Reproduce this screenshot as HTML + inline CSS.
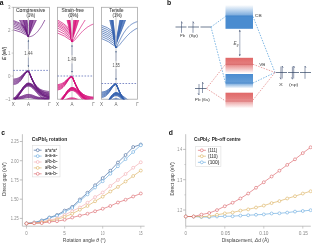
<!DOCTYPE html>
<html><head><meta charset="utf-8"><style>
html,body{margin:0;padding:0;background:#fff;width:312px;height:243px;overflow:hidden}
svg{display:block;font-family:"Liberation Sans", sans-serif;will-change:transform}
</style></head><body>
<svg width="312" height="243" viewBox="0 0 312 243" xmlns="http://www.w3.org/2000/svg">
<rect x="13.3" y="7.3" width="36.2" height="91.9" fill="none" stroke="#a9a9a9" stroke-width="0.8"/>
<line x1="28.4" y1="7.3" x2="28.4" y2="99.2" stroke="#a9a9a9" stroke-width="0.6"/>
<clipPath id="c0"><rect x="13.3" y="20.0" width="36.2" height="79.2"/></clipPath>
<g clip-path="url(#c0)" fill="none" stroke="#6a1c80" stroke-width="0.7">
<path d="M18.9,19.0 L26.9,19.0 L28.4,36.5 Z" fill="#7b2a8e" fill-opacity="0.65" stroke="none"/>
<path d="M18.9,19.0 L28.4,36.5 L28.4,36.8"/>
<path d="M22.9,19.0 L28.4,36.5 L28.4,36.8"/>
<path d="M26.9,19.0 L28.4,36.5 L28.4,36.8"/>
<path d="M29.9,19.0 L36.9,19.0 L28.4,36.5 Z" fill="#7b2a8e" fill-opacity="0.65" stroke="none"/>
<path d="M29.9,19.0 L28.4,36.5 L28.4,36.8"/>
<path d="M33.4,19.0 L28.4,36.5 L28.4,36.8"/>
<path d="M36.9,19.0 L28.4,36.5 L28.4,36.8"/>
<path d="M23.6,19.0 Q27.8,35.5 28.4,34.3 Q29.0,35.5 32.7,19.0" stroke-width="0.5"/>
<path d="M24.6,19.0 Q27.8,32.6 28.4,31.4 Q29.0,32.6 31.9,19.0" stroke-width="0.5"/>
<path d="M25.6,19.0 Q27.8,29.7 28.4,28.5 Q29.0,29.7 31.0,19.0" stroke-width="0.5"/>
<path d="M26.5,19.0 Q27.8,26.8 28.4,25.6 Q29.0,26.8 30.1,19.0" stroke-width="0.5"/>
<path d="M13.3,20.5 Q19.0,21.9 24.7,26.6 Q27.9,36.5 28.4,36.8"/>
<path d="M13.3,21.5 Q19.3,23.2 25.3,28.1 Q27.9,36.5 28.4,36.8"/>
<path d="M13.3,22.8 Q19.5,24.6 25.8,29.6 Q27.9,36.5 28.4,36.8"/>
<path d="M13.3,24.2 Q19.8,26.1 26.3,31.2 Q27.9,36.5 28.4,36.8"/>
<path d="M13.3,25.8 Q20.0,27.7 26.8,32.7 Q27.9,36.5 28.4,36.8"/>
<path d="M13.3,27.6 Q20.3,29.3 27.3,34.3 Q27.9,36.5 28.4,36.8"/>
<path d="M13.3,29.8 Q20.5,31.2 27.8,35.8 Q27.9,36.5 28.4,36.8"/>
<path d="M28.8,36.8 L29.3,36.7 L29.8,36.7 L30.3,36.6 L30.8,36.4 L31.3,36.3 L31.8,36.1 L32.3,35.9 L32.8,35.6 L33.3,35.3 L33.8,35.0 L34.3,34.6 L34.8,34.3 L35.3,33.8 L35.8,33.4 L36.3,32.9 L36.8,32.4 L37.3,31.9 L37.8,31.3 L38.3,30.7 L38.8,30.1 L39.3,29.4 L39.8,28.7 L40.3,28.0 L40.8,27.3 L41.3,26.5 L41.8,25.7 L42.3,24.8 L42.8,23.9 L43.3,23.0 L43.8,22.1 L44.3,21.1 L44.8,20.1 L45.3,19.1 L45.8,18.0 L46.3,17.0 L46.8,17.0 L47.3,17.0 L47.8,17.0 L48.3,17.0 L48.8,17.0 L49.3,17.0"/>
<line x1="28.4" y1="20.0" x2="28.4" y2="34.3" stroke="#ffffff" stroke-opacity="0.6" stroke-width="1.0"/><line x1="28.4" y1="20.0" x2="28.4" y2="34.3" stroke="#b8b8b8" stroke-width="0.4"/>
<g stroke-width="0.95">
<path d="M13.3,79.1 L13.8,79.1 L14.3,79.0 L14.8,79.0 L15.3,78.9 L15.8,78.8 L16.3,78.7 L16.8,78.6 L17.3,78.4 L17.8,78.2 L18.3,78.0 L18.8,77.8 L19.3,77.5 L19.8,77.2 L20.3,76.8 L20.8,76.4 L21.3,76.0 L21.8,75.6 L22.3,75.1 L22.8,74.6 L23.3,74.1 L23.8,73.6 L24.3,73.1 L24.8,72.7 L25.3,72.2 L25.8,71.8 L26.3,71.5 L26.8,71.2 L27.3,71.0 L27.8,70.9 L28.3,70.8 L28.8,71.3 L29.3,72.4 L29.8,73.6 L30.3,74.8 L30.8,75.9 L31.3,77.1 L31.8,78.2 L32.3,79.3 L32.8,80.3 L33.3,81.3 L33.8,82.2 L34.3,83.0 L34.8,83.8 L35.3,84.6 L35.8,85.2 L36.3,85.9 L36.8,86.5 L37.3,87.0 L37.8,87.5 L38.3,87.9 L38.8,88.3 L39.3,88.7 L39.8,89.0 L40.3,89.3 L40.8,89.6 L41.3,89.8 L41.8,90.0 L42.3,90.2 L42.8,90.4 L43.3,90.5 L43.8,90.7 L44.3,90.8 L44.8,90.9 L45.3,91.0 L45.8,91.1 L46.3,91.2 L46.8,91.2 L47.3,91.3 L47.8,91.4 L48.3,91.4 L48.8,91.5 L49.3,91.5"/>
<path d="M13.3,80.2 L13.8,80.1 L14.3,80.1 L14.8,80.0 L15.3,79.9 L15.8,79.8 L16.3,79.7 L16.8,79.6 L17.3,79.4 L17.8,79.2 L18.3,79.0 L18.8,78.7 L19.3,78.4 L19.8,78.0 L20.3,77.7 L20.8,77.2 L21.3,76.8 L21.8,76.3 L22.3,75.7 L22.8,75.2 L23.3,74.6 L23.8,74.1 L24.3,73.5 L24.8,73.0 L25.3,72.5 L25.8,72.1 L26.3,71.7 L26.8,71.4 L27.3,71.2 L27.8,71.0 L28.3,71.0 L28.8,71.4 L29.3,72.5 L29.8,73.7 L30.3,74.9 L30.8,76.1 L31.3,77.3 L31.8,78.4 L32.3,79.5 L32.8,80.5 L33.3,81.5 L33.8,82.5 L34.3,83.3 L34.8,84.2 L35.3,85.0 L35.8,85.7 L36.3,86.4 L36.8,87.0 L37.3,87.6 L37.8,88.1 L38.3,88.6 L38.8,89.0 L39.3,89.4 L39.8,89.8 L40.3,90.1 L40.8,90.4 L41.3,90.7 L41.8,90.9 L42.3,91.2 L42.8,91.4 L43.3,91.6 L43.8,91.7 L44.3,91.9 L44.8,92.0 L45.3,92.1 L45.8,92.2 L46.3,92.3 L46.8,92.4 L47.3,92.5 L47.8,92.6 L48.3,92.6 L48.8,92.7 L49.3,92.7"/>
<path d="M13.3,81.2 L13.8,81.2 L14.3,81.1 L14.8,81.1 L15.3,81.0 L15.8,80.9 L16.3,80.8 L16.8,80.6 L17.3,80.4 L17.8,80.2 L18.3,79.9 L18.8,79.6 L19.3,79.3 L19.8,78.9 L20.3,78.5 L20.8,78.0 L21.3,77.5 L21.8,76.9 L22.3,76.4 L22.8,75.8 L23.3,75.2 L23.8,74.6 L24.3,74.0 L24.8,73.4 L25.3,72.9 L25.8,72.4 L26.3,72.0 L26.8,71.6 L27.3,71.4 L27.8,71.2 L28.3,71.1 L28.8,71.6 L29.3,72.7 L29.8,73.9 L30.3,75.1 L30.8,76.3 L31.3,77.5 L31.8,78.6 L32.3,79.7 L32.8,80.7 L33.3,81.8 L33.8,82.7 L34.3,83.6 L34.8,84.5 L35.3,85.3 L35.8,86.1 L36.3,86.8 L36.8,87.5 L37.3,88.1 L37.8,88.6 L38.3,89.2 L38.8,89.7 L39.3,90.1 L39.8,90.5 L40.3,90.9 L40.8,91.2 L41.3,91.5 L41.8,91.8 L42.3,92.1 L42.8,92.3 L43.3,92.5 L43.8,92.7 L44.3,92.9 L44.8,93.1 L45.3,93.2 L45.8,93.3 L46.3,93.5 L46.8,93.6 L47.3,93.7 L47.8,93.7 L48.3,93.8 L48.8,93.9 L49.3,94.0"/>
<path d="M13.3,82.3 L13.8,82.3 L14.3,82.2 L14.8,82.1 L15.3,82.0 L15.8,81.9 L16.3,81.8 L16.8,81.6 L17.3,81.4 L17.8,81.2 L18.3,80.9 L18.8,80.6 L19.3,80.2 L19.8,79.8 L20.3,79.3 L20.8,78.8 L21.3,78.2 L21.8,77.6 L22.3,77.0 L22.8,76.3 L23.3,75.7 L23.8,75.0 L24.3,74.4 L24.8,73.7 L25.3,73.2 L25.8,72.6 L26.3,72.2 L26.8,71.8 L27.3,71.5 L27.8,71.4 L28.3,71.3 L28.8,71.8 L29.3,72.9 L29.8,74.1 L30.3,75.3 L30.8,76.5 L31.3,77.6 L31.8,78.8 L32.3,79.9 L32.8,81.0 L33.3,82.0 L33.8,83.0 L34.3,83.9 L34.8,84.8 L35.3,85.7 L35.8,86.5 L36.3,87.2 L36.8,87.9 L37.3,88.6 L37.8,89.2 L38.3,89.7 L38.8,90.3 L39.3,90.8 L39.8,91.2 L40.3,91.6 L40.8,92.0 L41.3,92.3 L41.8,92.7 L42.3,93.0 L42.8,93.2 L43.3,93.5 L43.8,93.7 L44.3,93.9 L44.8,94.1 L45.3,94.2 L45.8,94.4 L46.3,94.5 L46.8,94.7 L47.3,94.8 L47.8,94.9 L48.3,95.0 L48.8,95.1 L49.3,95.1"/>
<path d="M13.3,83.4 L13.8,83.3 L14.3,83.3 L14.8,83.2 L15.3,83.1 L15.8,83.0 L16.3,82.8 L16.8,82.6 L17.3,82.4 L17.8,82.1 L18.3,81.8 L18.8,81.5 L19.3,81.1 L19.8,80.6 L20.3,80.1 L20.8,79.6 L21.3,79.0 L21.8,78.3 L22.3,77.6 L22.8,76.9 L23.3,76.2 L23.8,75.5 L24.3,74.8 L24.8,74.1 L25.3,73.5 L25.8,72.9 L26.3,72.4 L26.8,72.0 L27.3,71.7 L27.8,71.5 L28.3,71.4 L28.8,71.9 L29.3,73.0 L29.8,74.2 L30.3,75.4 L30.8,76.6 L31.3,77.8 L31.8,79.0 L32.3,80.1 L32.8,81.2 L33.3,82.2 L33.8,83.2 L34.3,84.2 L34.8,85.1 L35.3,86.0 L35.8,86.8 L36.3,87.6 L36.8,88.3 L37.3,89.0 L37.8,89.7 L38.3,90.3 L38.8,90.8 L39.3,91.4 L39.8,91.8 L40.3,92.3 L40.8,92.7 L41.3,93.1 L41.8,93.5 L42.3,93.8 L42.8,94.1 L43.3,94.4 L43.8,94.6 L44.3,94.8 L44.8,95.1 L45.3,95.2 L45.8,95.4 L46.3,95.6 L46.8,95.7 L47.3,95.9 L47.8,96.0 L48.3,96.1 L48.8,96.2 L49.3,96.3"/>
<path d="M13.3,84.4 L13.8,84.4 L14.3,84.3 L14.8,84.2 L15.3,84.1 L15.8,84.0 L16.3,83.8 L16.8,83.6 L17.3,83.4 L17.8,83.1 L18.3,82.8 L18.8,82.4 L19.3,82.0 L19.8,81.5 L20.3,80.9 L20.8,80.3 L21.3,79.7 L21.8,79.0 L22.3,78.3 L22.8,77.5 L23.3,76.7 L23.8,76.0 L24.3,75.2 L24.8,74.5 L25.3,73.8 L25.8,73.2 L26.3,72.7 L26.8,72.2 L27.3,71.9 L27.8,71.7 L28.3,71.6 L28.8,72.1 L29.3,73.2 L29.8,74.4 L30.3,75.6 L30.8,76.8 L31.3,78.0 L31.8,79.1 L32.3,80.3 L32.8,81.4 L33.3,82.4 L33.8,83.5 L34.3,84.4 L34.8,85.4 L35.3,86.3 L35.8,87.1 L36.3,88.0 L36.8,88.7 L37.3,89.5 L37.8,90.1 L38.3,90.8 L38.8,91.4 L39.3,91.9 L39.8,92.5 L40.3,92.9 L40.8,93.4 L41.3,93.8 L41.8,94.2 L42.3,94.6 L42.8,94.9 L43.3,95.2 L43.8,95.5 L44.3,95.7 L44.8,96.0 L45.3,96.2 L45.8,96.4 L46.3,96.6 L46.8,96.8 L47.3,96.9 L47.8,97.1 L48.3,97.2 L48.8,97.3 L49.3,97.4"/>
<path d="M13.3,101.2 L13.8,100.7 L14.3,100.2 L14.8,99.7 L15.3,99.1 L15.8,98.5 L16.3,97.8 L16.8,97.1 L17.3,96.4 L17.8,95.7 L18.3,94.9 L18.8,94.1 L19.3,93.3 L19.8,92.5 L20.3,91.7 L20.8,90.9 L21.3,90.1 L21.8,89.3 L22.3,88.5 L22.8,87.7 L23.3,87.0 L23.8,86.4 L24.3,85.7 L24.8,85.2 L25.3,84.6 L25.8,84.2 L26.3,83.8 L26.8,83.5 L27.3,83.3 L27.8,83.2 L28.3,83.1 L28.8,83.1 L29.3,83.2 L29.8,83.3 L30.3,83.4 L30.8,83.6 L31.3,83.8 L31.8,84.1 L32.3,84.3 L32.8,84.7 L33.3,85.0 L33.8,85.3 L34.3,85.7 L34.8,86.1 L35.3,86.5 L35.8,86.9 L36.3,87.3 L36.8,87.7 L37.3,88.1 L37.8,88.5 L38.3,88.9 L38.8,89.3 L39.3,89.7 L39.8,90.0 L40.3,90.3 L40.8,90.7 L41.3,90.9 L41.8,91.2 L42.3,91.5 L42.8,91.7 L43.3,91.9 L43.8,92.1 L44.3,92.3 L44.8,92.5 L45.3,92.6 L45.8,92.7 L46.3,92.9 L46.8,93.0 L47.3,93.1 L47.8,93.1 L48.3,93.2 L48.8,93.3 L49.3,93.3"/>
<path d="M13.3,101.3 L13.8,100.8 L14.3,100.3 L14.8,99.8 L15.3,99.3 L15.8,98.7 L16.3,98.0 L16.8,97.4 L17.3,96.7 L17.8,95.9 L18.3,95.2 L18.8,94.4 L19.3,93.7 L19.8,92.9 L20.3,92.1 L20.8,91.3 L21.3,90.5 L21.8,89.7 L22.3,88.9 L22.8,88.2 L23.3,87.5 L23.8,86.9 L24.3,86.3 L24.8,85.7 L25.3,85.2 L25.8,84.8 L26.3,84.4 L26.8,84.1 L27.3,83.9 L27.8,83.8 L28.3,83.7 L28.8,83.7 L29.3,83.8 L29.8,83.9 L30.3,84.0 L30.8,84.2 L31.3,84.5 L31.8,84.7 L32.3,85.0 L32.8,85.4 L33.3,85.8 L33.8,86.1 L34.3,86.6 L34.8,87.0 L35.3,87.4 L35.8,87.8 L36.3,88.3 L36.8,88.7 L37.3,89.2 L37.8,89.6 L38.3,90.0 L38.8,90.4 L39.3,90.8 L39.8,91.2 L40.3,91.6 L40.8,91.9 L41.3,92.2 L41.8,92.5 L42.3,92.8 L42.8,93.0 L43.3,93.3 L43.8,93.5 L44.3,93.7 L44.8,93.9 L45.3,94.0 L45.8,94.2 L46.3,94.3 L46.8,94.4 L47.3,94.5 L47.8,94.6 L48.3,94.7 L48.8,94.7 L49.3,94.8"/>
<path d="M13.3,101.4 L13.8,100.9 L14.3,100.5 L14.8,100.0 L15.3,99.4 L15.8,98.8 L16.3,98.2 L16.8,97.6 L17.3,96.9 L17.8,96.2 L18.3,95.5 L18.8,94.7 L19.3,94.0 L19.8,93.2 L20.3,92.4 L20.8,91.7 L21.3,90.9 L21.8,90.1 L22.3,89.4 L22.8,88.7 L23.3,88.0 L23.8,87.4 L24.3,86.8 L24.8,86.2 L25.3,85.8 L25.8,85.3 L26.3,85.0 L26.8,84.7 L27.3,84.5 L27.8,84.4 L28.3,84.3 L28.8,84.3 L29.3,84.4 L29.8,84.5 L30.3,84.7 L30.8,84.9 L31.3,85.1 L31.8,85.4 L32.3,85.8 L32.8,86.1 L33.3,86.5 L33.8,86.9 L34.3,87.4 L34.8,87.8 L35.3,88.3 L35.8,88.8 L36.3,89.3 L36.8,89.7 L37.3,90.2 L37.8,90.7 L38.3,91.1 L38.8,91.6 L39.3,92.0 L39.8,92.4 L40.3,92.8 L40.8,93.1 L41.3,93.5 L41.8,93.8 L42.3,94.1 L42.8,94.4 L43.3,94.6 L43.8,94.9 L44.3,95.1 L44.8,95.3 L45.3,95.4 L45.8,95.6 L46.3,95.7 L46.8,95.9 L47.3,96.0 L47.8,96.1 L48.3,96.1 L48.8,96.2 L49.3,96.3"/>
<path d="M13.3,101.5 L13.8,101.1 L14.3,100.6 L14.8,100.1 L15.3,99.6 L15.8,99.0 L16.3,98.4 L16.8,97.8 L17.3,97.1 L17.8,96.5 L18.3,95.8 L18.8,95.0 L19.3,94.3 L19.8,93.6 L20.3,92.8 L20.8,92.0 L21.3,91.3 L21.8,90.6 L22.3,89.9 L22.8,89.2 L23.3,88.5 L23.8,87.9 L24.3,87.3 L24.8,86.8 L25.3,86.3 L25.8,85.9 L26.3,85.6 L26.8,85.3 L27.3,85.1 L27.8,85.0 L28.3,84.9 L28.8,84.9 L29.3,85.0 L29.8,85.1 L30.3,85.3 L30.8,85.5 L31.3,85.8 L31.8,86.1 L32.3,86.5 L32.8,86.9 L33.3,87.3 L33.8,87.7 L34.3,88.2 L34.8,88.7 L35.3,89.2 L35.8,89.7 L36.3,90.2 L36.8,90.7 L37.3,91.2 L37.8,91.7 L38.3,92.2 L38.8,92.7 L39.3,93.2 L39.8,93.6 L40.3,94.0 L40.8,94.4 L41.3,94.8 L41.8,95.1 L42.3,95.4 L42.8,95.7 L43.3,96.0 L43.8,96.2 L44.3,96.5 L44.8,96.7 L45.3,96.9 L45.8,97.0 L46.3,97.2 L46.8,97.3 L47.3,97.4 L47.8,97.5 L48.3,97.6 L48.8,97.7 L49.3,97.7"/>
<path d="M13.3,101.6 L13.8,101.2 L14.3,100.7 L14.8,100.3 L15.3,99.7 L15.8,99.2 L16.3,98.6 L16.8,98.0 L17.3,97.4 L17.8,96.7 L18.3,96.0 L18.8,95.3 L19.3,94.6 L19.8,93.9 L20.3,93.2 L20.8,92.4 L21.3,91.7 L21.8,91.0 L22.3,90.3 L22.8,89.6 L23.3,89.0 L23.8,88.4 L24.3,87.8 L24.8,87.3 L25.3,86.9 L25.8,86.5 L26.3,86.1 L26.8,85.9 L27.3,85.7 L27.8,85.6 L28.3,85.5 L28.8,85.5 L29.3,85.6 L29.8,85.7 L30.3,85.9 L30.8,86.2 L31.3,86.4 L31.8,86.8 L32.3,87.2 L32.8,87.6 L33.3,88.0 L33.8,88.5 L34.3,89.0 L34.8,89.5 L35.3,90.1 L35.8,90.6 L36.3,91.2 L36.8,91.7 L37.3,92.3 L37.8,92.8 L38.3,93.3 L38.8,93.8 L39.3,94.3 L39.8,94.8 L40.3,95.2 L40.8,95.6 L41.3,96.0 L41.8,96.4 L42.3,96.7 L42.8,97.1 L43.3,97.3 L43.8,97.6 L44.3,97.9 L44.8,98.1 L45.3,98.3 L45.8,98.4 L46.3,98.6 L46.8,98.7 L47.3,98.9 L47.8,99.0 L48.3,99.1 L48.8,99.1 L49.3,99.2"/>
<path d="M13.3,101.7 L13.8,101.3 L14.3,100.9 L14.8,100.4 L15.3,99.9 L15.8,99.4 L16.3,98.8 L16.8,98.2 L17.3,97.6 L17.8,97.0 L18.3,96.3 L18.8,95.6 L19.3,94.9 L19.8,94.2 L20.3,93.5 L20.8,92.8 L21.3,92.1 L21.8,91.4 L22.3,90.8 L22.8,90.1 L23.3,89.5 L23.8,88.9 L24.3,88.4 L24.8,87.9 L25.3,87.4 L25.8,87.0 L26.3,86.7 L26.8,86.5 L27.3,86.3 L27.8,86.2 L28.3,86.1 L28.8,86.1 L29.3,86.2 L29.8,86.3 L30.3,86.5 L30.8,86.8 L31.3,87.1 L31.8,87.5 L32.3,87.9 L32.8,88.3 L33.3,88.8 L33.8,89.3 L34.3,89.9 L34.8,90.4 L35.3,91.0 L35.8,91.6 L36.3,92.1 L36.8,92.7 L37.3,93.3 L37.8,93.9 L38.3,94.4 L38.8,95.0 L39.3,95.5 L39.8,96.0 L40.3,96.4 L40.8,96.9 L41.3,97.3 L41.8,97.7 L42.3,98.1 L42.8,98.4 L43.3,98.7 L43.8,99.0 L44.3,99.2 L44.8,99.5 L45.3,99.7 L45.8,99.9 L46.3,100.0 L46.8,100.2 L47.3,100.3 L47.8,100.4 L48.3,100.5 L48.8,100.6 L49.3,100.7"/>
<path d="M13.3,99.5 L13.8,98.9 L14.3,98.3 L14.8,97.7 L15.3,97.0 L15.8,96.4 L16.3,95.8 L16.8,95.2 L17.3,94.6 L17.8,94.0 L18.3,93.4 L18.8,92.8 L19.3,92.2 L19.8,91.6 L20.3,91.0 L20.8,90.4 L21.3,89.8 L21.8,89.2 L22.3,88.6 L22.8,88.0 L23.3,87.4 L23.8,86.9 L24.3,86.3 L24.8,85.8 L25.3,85.3 L25.8,84.8 L26.3,84.4 L26.8,84.0 L27.3,83.7 L27.8,83.5 L28.3,83.4 L28.8,83.4 L29.3,83.5 L29.8,83.7 L30.3,83.9 L30.8,84.1 L31.3,84.4 L31.8,84.8 L32.3,85.2 L32.8,85.7 L33.3,86.2 L33.8,86.7 L34.3,87.2 L34.8,87.8 L35.3,88.3 L35.8,88.9 L36.3,89.4 L36.8,90.0 L37.3,90.5 L37.8,91.0 L38.3,91.5 L38.8,92.0 L39.3,92.4 L39.8,92.9 L40.3,93.2 L40.8,93.6 L41.3,93.9 L41.8,94.2 L42.3,94.5 L42.8,94.8 L43.3,95.0 L43.8,95.2 L44.3,95.4 L44.8,95.5 L45.3,95.7 L45.8,95.8 L46.3,95.9 L46.8,96.0 L47.3,96.0 L47.8,96.1 L48.3,96.2 L48.8,96.2 L49.3,96.2"/>
<path d="M13.3,100.5 L13.8,99.9 L14.3,99.3 L14.8,98.7 L15.3,98.0 L15.8,97.4 L16.3,96.8 L16.8,96.2 L17.3,95.6 L17.8,95.0 L18.3,94.4 L18.8,93.8 L19.3,93.2 L19.8,92.6 L20.3,92.0 L20.8,91.4 L21.3,90.8 L21.8,90.2 L22.3,89.6 L22.8,89.0 L23.3,88.4 L23.8,87.9 L24.3,87.3 L24.8,86.8 L25.3,86.3 L25.8,85.8 L26.3,85.4 L26.8,85.0 L27.3,84.7 L27.8,84.5 L28.3,84.4 L28.8,84.4 L29.3,84.5 L29.8,84.7 L30.3,84.9 L30.8,85.1 L31.3,85.4 L31.8,85.8 L32.3,86.2 L32.8,86.7 L33.3,87.2 L33.8,87.7 L34.3,88.2 L34.8,88.8 L35.3,89.3 L35.8,89.9 L36.3,90.4 L36.8,91.0 L37.3,91.5 L37.8,92.0 L38.3,92.5 L38.8,93.0 L39.3,93.4 L39.8,93.9 L40.3,94.2 L40.8,94.6 L41.3,94.9 L41.8,95.2 L42.3,95.5 L42.8,95.8 L43.3,96.0 L43.8,96.2 L44.3,96.4 L44.8,96.5 L45.3,96.7 L45.8,96.8 L46.3,96.9 L46.8,97.0 L47.3,97.0 L47.8,97.1 L48.3,97.2 L48.8,97.2 L49.3,97.2"/>
<path d="M13.3,97.9 L13.8,97.9 L14.3,97.8 L14.8,97.8 L15.3,97.8 L15.8,97.7 L16.3,97.6 L16.8,97.6 L17.3,97.5 L17.8,97.4 L18.3,97.3 L18.8,97.1 L19.3,97.0 L19.8,96.9 L20.3,96.7 L20.8,96.5 L21.3,96.4 L21.8,96.2 L22.3,96.0 L22.8,95.8 L23.3,95.6 L23.8,95.4 L24.3,95.2 L24.8,95.1 L25.3,94.9 L25.8,94.8 L26.3,94.6 L26.8,94.5 L27.3,94.5 L27.8,94.4 L28.3,94.4 L28.8,94.4 L29.3,94.4 L29.8,94.5 L30.3,94.6 L30.8,94.7 L31.3,94.8 L31.8,95.0 L32.3,95.2 L32.8,95.3 L33.3,95.5 L33.8,95.7 L34.3,95.9 L34.8,96.1 L35.3,96.3 L35.8,96.5 L36.3,96.6 L36.8,96.8 L37.3,97.0 L37.8,97.1 L38.3,97.2 L38.8,97.3 L39.3,97.4 L39.8,97.5 L40.3,97.6 L40.8,97.7 L41.3,97.7 L41.8,97.8 L42.3,97.8 L42.8,97.9 L43.3,97.9 L43.8,97.9 L44.3,97.9 L44.8,97.9 L45.3,98.0 L45.8,98.0 L46.3,98.0 L46.8,98.0 L47.3,98.0 L47.8,98.0 L48.3,98.0 L48.8,98.0 L49.3,98.0"/>
<path d="M13.3,98.4 L13.8,98.4 L14.3,98.4 L14.8,98.3 L15.3,98.3 L15.8,98.2 L16.3,98.2 L16.8,98.1 L17.3,98.0 L17.8,97.9 L18.3,97.8 L18.8,97.7 L19.3,97.6 L19.8,97.5 L20.3,97.3 L20.8,97.2 L21.3,97.0 L21.8,96.8 L22.3,96.7 L22.8,96.5 L23.3,96.3 L23.8,96.1 L24.3,96.0 L24.8,95.8 L25.3,95.7 L25.8,95.5 L26.3,95.4 L26.8,95.3 L27.3,95.3 L27.8,95.2 L28.3,95.2 L28.8,95.2 L29.3,95.2 L29.8,95.3 L30.3,95.4 L30.8,95.5 L31.3,95.6 L31.8,95.7 L32.3,95.9 L32.8,96.1 L33.3,96.2 L33.8,96.4 L34.3,96.6 L34.8,96.8 L35.3,96.9 L35.8,97.1 L36.3,97.3 L36.8,97.4 L37.3,97.5 L37.8,97.7 L38.3,97.8 L38.8,97.9 L39.3,98.0 L39.8,98.1 L40.3,98.1 L40.8,98.2 L41.3,98.3 L41.8,98.3 L42.3,98.3 L42.8,98.4 L43.3,98.4 L43.8,98.4 L44.3,98.4 L44.8,98.5 L45.3,98.5 L45.8,98.5 L46.3,98.5 L46.8,98.5 L47.3,98.5 L47.8,98.5 L48.3,98.5 L48.8,98.5 L49.3,98.5"/>
<path d="M13.3,98.9 L13.8,98.9 L14.3,98.9 L14.8,98.8 L15.3,98.8 L15.8,98.7 L16.3,98.7 L16.8,98.6 L17.3,98.6 L17.8,98.5 L18.3,98.4 L18.8,98.3 L19.3,98.2 L19.8,98.1 L20.3,97.9 L20.8,97.8 L21.3,97.6 L21.8,97.5 L22.3,97.3 L22.8,97.2 L23.3,97.0 L23.8,96.8 L24.3,96.7 L24.8,96.5 L25.3,96.4 L25.8,96.3 L26.3,96.2 L26.8,96.1 L27.3,96.1 L27.8,96.0 L28.3,96.0 L28.8,96.0 L29.3,96.0 L29.8,96.1 L30.3,96.2 L30.8,96.3 L31.3,96.4 L31.8,96.5 L32.3,96.6 L32.8,96.8 L33.3,96.9 L33.8,97.1 L34.3,97.3 L34.8,97.4 L35.3,97.6 L35.8,97.7 L36.3,97.9 L36.8,98.0 L37.3,98.1 L37.8,98.2 L38.3,98.4 L38.8,98.4 L39.3,98.5 L39.8,98.6 L40.3,98.7 L40.8,98.7 L41.3,98.8 L41.8,98.8 L42.3,98.9 L42.8,98.9 L43.3,98.9 L43.8,98.9 L44.3,98.9 L44.8,99.0 L45.3,99.0 L45.8,99.0 L46.3,99.0 L46.8,99.0 L47.3,99.0 L47.8,99.0 L48.3,99.0 L48.8,99.0 L49.3,99.0"/>
<path d="M13.3,99.4 L13.8,99.4 L14.3,99.4 L14.8,99.3 L15.3,99.3 L15.8,99.3 L16.3,99.2 L16.8,99.2 L17.3,99.1 L17.8,99.0 L18.3,99.0 L18.8,98.9 L19.3,98.8 L19.8,98.6 L20.3,98.5 L20.8,98.4 L21.3,98.3 L21.8,98.1 L22.3,98.0 L22.8,97.8 L23.3,97.7 L23.8,97.6 L24.3,97.4 L24.8,97.3 L25.3,97.2 L25.8,97.1 L26.3,97.0 L26.8,96.9 L27.3,96.9 L27.8,96.8 L28.3,96.8 L28.8,96.8 L29.3,96.8 L29.8,96.9 L30.3,96.9 L30.8,97.0 L31.3,97.1 L31.8,97.2 L32.3,97.4 L32.8,97.5 L33.3,97.6 L33.8,97.8 L34.3,97.9 L34.8,98.1 L35.3,98.2 L35.8,98.4 L36.3,98.5 L36.8,98.6 L37.3,98.7 L37.8,98.8 L38.3,98.9 L38.8,99.0 L39.3,99.1 L39.8,99.1 L40.3,99.2 L40.8,99.3 L41.3,99.3 L41.8,99.3 L42.3,99.4 L42.8,99.4 L43.3,99.4 L43.8,99.4 L44.3,99.4 L44.8,99.5 L45.3,99.5 L45.8,99.5 L46.3,99.5 L46.8,99.5 L47.3,99.5 L47.8,99.5 L48.3,99.5 L48.8,99.5 L49.3,99.5"/>
<path d="M13.3,99.9 L13.8,99.9 L14.3,99.9 L14.8,99.9 L15.3,99.8 L15.8,99.8 L16.3,99.8 L16.8,99.7 L17.3,99.6 L17.8,99.6 L18.3,99.5 L18.8,99.4 L19.3,99.3 L19.8,99.2 L20.3,99.1 L20.8,99.0 L21.3,98.9 L21.8,98.8 L22.3,98.7 L22.8,98.5 L23.3,98.4 L23.8,98.3 L24.3,98.2 L24.8,98.0 L25.3,97.9 L25.8,97.8 L26.3,97.8 L26.8,97.7 L27.3,97.6 L27.8,97.6 L28.3,97.6 L28.8,97.6 L29.3,97.6 L29.8,97.7 L30.3,97.7 L30.8,97.8 L31.3,97.9 L31.8,98.0 L32.3,98.1 L32.8,98.2 L33.3,98.4 L33.8,98.5 L34.3,98.6 L34.8,98.7 L35.3,98.9 L35.8,99.0 L36.3,99.1 L36.8,99.2 L37.3,99.3 L37.8,99.4 L38.3,99.5 L38.8,99.6 L39.3,99.6 L39.8,99.7 L40.3,99.7 L40.8,99.8 L41.3,99.8 L41.8,99.9 L42.3,99.9 L42.8,99.9 L43.3,99.9 L43.8,99.9 L44.3,100.0 L44.8,100.0 L45.3,100.0 L45.8,100.0 L46.3,100.0 L46.8,100.0 L47.3,100.0 L47.8,100.0 L48.3,100.0 L48.8,100.0 L49.3,100.0"/>
</g>
</g>
<line x1="13.3" y1="70.4" x2="49.5" y2="70.4" stroke="#4a5cb0" stroke-width="0.7" stroke-dasharray="1.6,1.4"/>
<line x1="28.4" y1="40.3" x2="28.4" y2="49.2" stroke="#7f8db0" stroke-width="0.55"/>
<line x1="28.4" y1="57.5" x2="28.4" y2="66.8" stroke="#7f8db0" stroke-width="0.55"/>
<path d="M27.599999999999998,41.4 L28.4,40.0 L29.2,41.4Z" fill="#2e4a78"/>
<path d="M27.599999999999998,65.6 L28.4,67.0 L29.2,65.6Z" fill="#2e4a78"/>
<text x="24.22" y="55.00" font-size="4.6" fill="#555" font-weight="normal" textLength="8.46" lengthAdjust="spacingAndGlyphs" >1.44</text>
<text x="16.00" y="11.60" font-size="4.9" fill="#3c3c3c" stroke="#3c3c3c" stroke-width="0.06" font-weight="normal" textLength="29.28" lengthAdjust="spacingAndGlyphs" >Compressive</text>
<text x="26.61" y="17.30" font-size="4.9" fill="#3c3c3c" stroke="#3c3c3c" stroke-width="0.06" font-weight="normal" textLength="8.38" lengthAdjust="spacingAndGlyphs" >(1%)</text>
<text x="13.3" y="105.5" font-size="4.5" fill="#666" text-anchor="middle">X</text>
<text x="28.4" y="105.5" font-size="4.5" fill="#666" text-anchor="middle">A</text>
<text x="49.5" y="105.5" font-size="4.5" fill="#666" text-anchor="middle">Γ</text>
<rect x="57.5" y="7.3" width="36.0" height="91.9" fill="none" stroke="#a9a9a9" stroke-width="0.8"/>
<line x1="72.0" y1="7.3" x2="72.0" y2="99.2" stroke="#a9a9a9" stroke-width="0.6"/>
<clipPath id="c1"><rect x="57.5" y="20.0" width="36.0" height="79.2"/></clipPath>
<g clip-path="url(#c1)" fill="none" stroke="#d5127a" stroke-width="0.7">
<path d="M66.8,19.0 L70.0,19.0 L72.0,40.6 Z" fill="#e0207f" fill-opacity="0.8" stroke="none"/>
<path d="M66.8,19.0 L72.0,40.6 L72.0,41.8"/>
<path d="M68.4,19.0 L72.0,40.6 L72.0,41.8"/>
<path d="M70.0,19.0 L72.0,40.6 L72.0,41.8"/>
<path d="M73.8,19.0 L79.1,19.0 L72.0,40.6 Z" fill="#e0207f" fill-opacity="0.8" stroke="none"/>
<path d="M73.8,19.0 L72.0,40.6 L72.0,41.8"/>
<path d="M76.4,19.0 L72.0,40.6 L72.0,41.8"/>
<path d="M79.1,19.0 L72.0,40.6 L72.0,41.8"/>
<path d="M68.8,19.0 Q71.4,39.6 72.0,38.4 Q72.6,39.6 76.0,19.0" stroke-width="0.5"/>
<path d="M69.3,19.0 Q71.4,36.7 72.0,35.5 Q72.6,36.7 75.3,19.0" stroke-width="0.5"/>
<path d="M57.5,20.0 Q63.5,22.8 69.6,28.8 Q71.5,41.5 72.0,41.8"/>
<path d="M57.5,21.5 Q63.7,24.4 69.8,30.5 Q71.5,41.5 72.0,41.8"/>
<path d="M57.5,23.0 Q63.8,26.0 70.1,32.2 Q71.5,41.5 72.0,41.8"/>
<path d="M57.5,24.5 Q64.0,27.6 70.4,33.9 Q71.5,41.5 72.0,41.8"/>
<path d="M57.5,26.0 Q64.1,29.2 70.7,35.7 Q71.5,41.5 72.0,41.8"/>
<path d="M57.5,28.0 Q64.2,31.1 71.0,37.4 Q71.5,41.5 72.0,41.8"/>
<path d="M57.5,30.5 Q64.4,33.2 71.3,39.1 Q71.5,41.5 72.0,41.8"/>
<path d="M57.5,33.0 Q64.5,35.3 71.5,40.8 Q71.5,41.5 72.0,41.8"/>
<path d="M72.0,41.8 L72.5,41.4 L73.0,40.6 L73.5,39.8 L74.0,38.9 L74.5,38.0 L75.0,37.2 L75.5,36.3 L76.0,35.4 L76.5,34.5 L77.0,33.6 L77.5,32.7 L78.0,31.9 L78.5,31.0 L79.0,30.1 L79.5,29.3 L80.0,28.4 L80.5,27.6 L81.0,26.7 L81.5,25.9 L82.0,25.0 L82.5,24.2 L83.0,23.4 L83.5,22.6 L84.0,21.8 L84.5,21.0 L85.0,20.2 L85.5,19.4 L86.0,18.7 L86.5,17.9 L87.0,17.1 L87.5,17.0 L88.0,17.0 L88.5,17.0 L89.0,17.0 L89.5,17.0 L90.0,17.0 L90.5,17.0 L91.0,17.0 L91.5,17.0 L92.0,17.0 L92.5,17.0 L93.0,17.0 L93.5,17.0"/>
<path d="M72.0,41.8 L72.5,41.7 L73.0,41.5 L73.5,41.2 L74.0,40.8 L74.5,40.3 L75.0,39.8 L75.5,39.2 L76.0,38.6 L76.5,38.1 L77.0,37.5 L77.5,36.9 L78.0,36.3 L78.5,35.7 L79.0,35.1 L79.5,34.6 L80.0,34.0 L80.5,33.4 L81.0,32.9 L81.5,32.4 L82.0,31.8 L82.5,31.3 L83.0,30.8 L83.5,30.4 L84.0,29.9 L84.5,29.5 L85.0,29.0 L85.5,28.6 L86.0,28.2 L86.5,27.9 L87.0,27.5 L87.5,27.1 L88.0,26.8 L88.5,26.5 L89.0,26.2 L89.5,25.9 L90.0,25.6 L90.5,25.3 L91.0,25.1 L91.5,24.8 L92.0,24.6 L92.5,24.4 L93.0,24.2 L93.5,24.0"/>
<line x1="72.0" y1="20.0" x2="72.0" y2="39.3" stroke="#ffffff" stroke-opacity="0.6" stroke-width="1.0"/><line x1="72.0" y1="20.0" x2="72.0" y2="39.3" stroke="#b8b8b8" stroke-width="0.4"/>
<g stroke-width="0.95">
<path d="M57.5,84.6 L58.0,84.5 L58.5,84.5 L59.0,84.4 L59.5,84.3 L60.0,84.2 L60.5,84.0 L61.0,83.9 L61.5,83.7 L62.0,83.5 L62.5,83.2 L63.0,82.9 L63.5,82.6 L64.0,82.3 L64.5,81.9 L65.0,81.4 L65.5,81.0 L66.0,80.5 L66.5,80.0 L67.0,79.5 L67.5,79.0 L68.0,78.5 L68.5,78.1 L69.0,77.6 L69.5,77.3 L70.0,76.9 L70.5,76.7 L71.0,76.5 L71.5,76.3 L72.0,76.3 L72.5,77.0 L73.0,78.1 L73.5,79.3 L74.0,80.5 L74.5,81.7 L75.0,82.8 L75.5,83.9 L76.0,85.0 L76.5,86.0 L77.0,86.9 L77.5,87.8 L78.0,88.7 L78.5,89.5 L79.0,90.2 L79.5,90.9 L80.0,91.5 L80.5,92.1 L81.0,92.6 L81.5,93.1 L82.0,93.5 L82.5,93.9 L83.0,94.2 L83.5,94.6 L84.0,94.9 L84.5,95.1 L85.0,95.3 L85.5,95.6 L86.0,95.7 L86.5,95.9 L87.0,96.1 L87.5,96.2 L88.0,96.3 L88.5,96.4 L89.0,96.5 L89.5,96.6 L90.0,96.7 L90.5,96.8 L91.0,96.8 L91.5,96.9 L92.0,96.9 L92.5,97.0 L93.0,97.0 L93.5,97.0"/>
<path d="M57.5,85.6 L58.0,85.6 L58.5,85.5 L59.0,85.4 L59.5,85.3 L60.0,85.2 L60.5,85.1 L61.0,84.9 L61.5,84.7 L62.0,84.4 L62.5,84.1 L63.0,83.8 L63.5,83.5 L64.0,83.1 L64.5,82.6 L65.0,82.2 L65.5,81.7 L66.0,81.1 L66.5,80.6 L67.0,80.0 L67.5,79.5 L68.0,78.9 L68.5,78.4 L69.0,77.9 L69.5,77.5 L70.0,77.2 L70.5,76.9 L71.0,76.6 L71.5,76.5 L72.0,76.5 L72.5,77.1 L73.0,78.3 L73.5,79.5 L74.0,80.7 L74.5,81.9 L75.0,83.0 L75.5,84.1 L76.0,85.2 L76.5,86.2 L77.0,87.2 L77.5,88.1 L78.0,89.0 L78.5,89.8 L79.0,90.6 L79.5,91.3 L80.0,92.0 L80.5,92.6 L81.0,93.2 L81.5,93.7 L82.0,94.2 L82.5,94.6 L83.0,95.0 L83.5,95.4 L84.0,95.7 L84.5,96.0 L85.0,96.2 L85.5,96.5 L86.0,96.7 L86.5,96.9 L87.0,97.1 L87.5,97.3 L88.0,97.4 L88.5,97.5 L89.0,97.6 L89.5,97.8 L90.0,97.8 L90.5,97.9 L91.0,98.0 L91.5,98.1 L92.0,98.1 L92.5,98.2 L93.0,98.2 L93.5,98.3"/>
<path d="M57.5,86.7 L58.0,86.6 L58.5,86.6 L59.0,86.5 L59.5,86.4 L60.0,86.2 L60.5,86.1 L61.0,85.9 L61.5,85.6 L62.0,85.4 L62.5,85.1 L63.0,84.7 L63.5,84.3 L64.0,83.9 L64.5,83.4 L65.0,82.9 L65.5,82.3 L66.0,81.7 L66.5,81.1 L67.0,80.5 L67.5,79.9 L68.0,79.3 L68.5,78.8 L69.0,78.3 L69.5,77.8 L70.0,77.4 L70.5,77.1 L71.0,76.8 L71.5,76.7 L72.0,76.6 L72.5,77.3 L73.0,78.4 L73.5,79.6 L74.0,80.8 L74.5,82.0 L75.0,83.2 L75.5,84.3 L76.0,85.4 L76.5,86.4 L77.0,87.5 L77.5,88.4 L78.0,89.3 L78.5,90.2 L79.0,91.0 L79.5,91.7 L80.0,92.4 L80.5,93.1 L81.0,93.7 L81.5,94.3 L82.0,94.8 L82.5,95.3 L83.0,95.7 L83.5,96.1 L84.0,96.5 L84.5,96.8 L85.0,97.1 L85.5,97.4 L86.0,97.6 L86.5,97.9 L87.0,98.1 L87.5,98.3 L88.0,98.4 L88.5,98.6 L89.0,98.7 L89.5,98.9 L90.0,99.0 L90.5,99.1 L91.0,99.2 L91.5,99.3 L92.0,99.3 L92.5,99.4 L93.0,99.5 L93.5,99.5"/>
<path d="M57.5,87.7 L58.0,87.7 L58.5,87.6 L59.0,87.5 L59.5,87.4 L60.0,87.2 L60.5,87.1 L61.0,86.9 L61.5,86.6 L62.0,86.3 L62.5,86.0 L63.0,85.6 L63.5,85.2 L64.0,84.7 L64.5,84.2 L65.0,83.6 L65.5,83.0 L66.0,82.4 L66.5,81.7 L67.0,81.0 L67.5,80.4 L68.0,79.7 L68.5,79.1 L69.0,78.6 L69.5,78.0 L70.0,77.6 L70.5,77.3 L71.0,77.0 L71.5,76.8 L72.0,76.8 L72.5,77.5 L73.0,78.6 L73.5,79.8 L74.0,81.0 L74.5,82.2 L75.0,83.4 L75.5,84.5 L76.0,85.6 L76.5,86.7 L77.0,87.7 L77.5,88.7 L78.0,89.6 L78.5,90.5 L79.0,91.3 L79.5,92.1 L80.0,92.9 L80.5,93.5 L81.0,94.2 L81.5,94.8 L82.0,95.4 L82.5,95.9 L83.0,96.3 L83.5,96.8 L84.0,97.2 L84.5,97.6 L85.0,97.9 L85.5,98.2 L86.0,98.5 L86.5,98.8 L87.0,99.0 L87.5,99.2 L88.0,99.4 L88.5,99.6 L89.0,99.8 L89.5,99.9 L90.0,100.1 L90.5,100.2 L91.0,100.3 L91.5,100.4 L92.0,100.5 L92.5,100.6 L93.0,100.7 L93.5,100.7"/>
<path d="M57.5,88.8 L58.0,88.7 L58.5,88.7 L59.0,88.6 L59.5,88.4 L60.0,88.3 L60.5,88.1 L61.0,87.8 L61.5,87.6 L62.0,87.3 L62.5,86.9 L63.0,86.5 L63.5,86.0 L64.0,85.5 L64.5,84.9 L65.0,84.3 L65.5,83.7 L66.0,83.0 L66.5,82.3 L67.0,81.6 L67.5,80.8 L68.0,80.1 L68.5,79.5 L69.0,78.9 L69.5,78.3 L70.0,77.8 L70.5,77.5 L71.0,77.2 L71.5,77.0 L72.0,76.9 L72.5,77.6 L73.0,78.8 L73.5,80.0 L74.0,81.2 L74.5,82.4 L75.0,83.5 L75.5,84.7 L76.0,85.8 L76.5,86.9 L77.0,87.9 L77.5,88.9 L78.0,89.9 L78.5,90.8 L79.0,91.7 L79.5,92.5 L80.0,93.2 L80.5,94.0 L81.0,94.7 L81.5,95.3 L82.0,95.9 L82.5,96.4 L83.0,97.0 L83.5,97.4 L84.0,97.9 L84.5,98.3 L85.0,98.7 L85.5,99.0 L86.0,99.3 L86.5,99.6 L87.0,99.9 L87.5,100.2 L88.0,100.4 L88.5,100.6 L89.0,100.8 L89.5,101.0 L90.0,101.1 L90.5,101.3 L91.0,101.4 L91.5,101.5 L92.0,101.6 L92.5,101.7 L93.0,101.8 L93.5,101.9"/>
<path d="M57.5,89.9 L58.0,89.8 L58.5,89.7 L59.0,89.6 L59.5,89.5 L60.0,89.3 L60.5,89.1 L61.0,88.8 L61.5,88.6 L62.0,88.2 L62.5,87.8 L63.0,87.4 L63.5,86.9 L64.0,86.3 L64.5,85.7 L65.0,85.0 L65.5,84.3 L66.0,83.6 L66.5,82.8 L67.0,82.1 L67.5,81.3 L68.0,80.6 L68.5,79.8 L69.0,79.2 L69.5,78.6 L70.0,78.1 L70.5,77.7 L71.0,77.3 L71.5,77.2 L72.0,77.1 L72.5,77.8 L73.0,78.9 L73.5,80.1 L74.0,81.3 L74.5,82.5 L75.0,83.7 L75.5,84.9 L76.0,86.0 L76.5,87.1 L77.0,88.1 L77.5,89.2 L78.0,90.1 L78.5,91.1 L79.0,92.0 L79.5,92.8 L80.0,93.6 L80.5,94.4 L81.0,95.1 L81.5,95.8 L82.0,96.4 L82.5,97.0 L83.0,97.5 L83.5,98.1 L84.0,98.5 L84.5,99.0 L85.0,99.4 L85.5,99.8 L86.0,100.1 L86.5,100.5 L87.0,100.8 L87.5,101.0 L88.0,101.3 L88.5,101.5 L89.0,101.7 L89.5,101.9 L90.0,102.1 L90.5,102.3 L91.0,102.5 L91.5,102.6 L92.0,102.7 L92.5,102.8 L93.0,103.0 L93.5,103.1"/>
<path d="M57.5,105.0 L58.0,104.5 L58.5,104.0 L59.0,103.4 L59.5,102.7 L60.0,102.1 L60.5,101.4 L61.0,100.7 L61.5,99.9 L62.0,99.2 L62.5,98.4 L63.0,97.6 L63.5,96.8 L64.0,95.9 L64.5,95.1 L65.0,94.3 L65.5,93.5 L66.0,92.7 L66.5,92.0 L67.0,91.3 L67.5,90.6 L68.0,90.0 L68.5,89.4 L69.0,88.9 L69.5,88.5 L70.0,88.2 L70.5,87.9 L71.0,87.7 L71.5,87.5 L72.0,87.5 L72.5,87.5 L73.0,87.6 L73.5,87.7 L74.0,87.8 L74.5,88.0 L75.0,88.3 L75.5,88.5 L76.0,88.8 L76.5,89.1 L77.0,89.5 L77.5,89.8 L78.0,90.2 L78.5,90.6 L79.0,91.0 L79.5,91.4 L80.0,91.8 L80.5,92.2 L81.0,92.6 L81.5,93.0 L82.0,93.4 L82.5,93.8 L83.0,94.1 L83.5,94.5 L84.0,94.8 L84.5,95.1 L85.0,95.4 L85.5,95.7 L86.0,95.9 L86.5,96.2 L87.0,96.4 L87.5,96.6 L88.0,96.7 L88.5,96.9 L89.0,97.0 L89.5,97.2 L90.0,97.3 L90.5,97.4 L91.0,97.5 L91.5,97.5 L92.0,97.6 L92.5,97.7 L93.0,97.7 L93.5,97.8"/>
<path d="M57.5,105.1 L58.0,104.6 L58.5,104.1 L59.0,103.5 L59.5,102.9 L60.0,102.3 L60.5,101.6 L61.0,100.9 L61.5,100.2 L62.0,99.5 L62.5,98.7 L63.0,97.9 L63.5,97.1 L64.0,96.3 L64.5,95.5 L65.0,94.7 L65.5,94.0 L66.0,93.2 L66.5,92.5 L67.0,91.8 L67.5,91.1 L68.0,90.5 L68.5,90.0 L69.0,89.5 L69.5,89.1 L70.0,88.7 L70.5,88.5 L71.0,88.3 L71.5,88.1 L72.0,88.1 L72.5,88.1 L73.0,88.2 L73.5,88.3 L74.0,88.5 L74.5,88.7 L75.0,88.9 L75.5,89.2 L76.0,89.5 L76.5,89.9 L77.0,90.2 L77.5,90.6 L78.0,91.0 L78.5,91.5 L79.0,91.9 L79.5,92.3 L80.0,92.8 L80.5,93.2 L81.0,93.7 L81.5,94.1 L82.0,94.5 L82.5,94.9 L83.0,95.3 L83.5,95.7 L84.0,96.0 L84.5,96.4 L85.0,96.7 L85.5,97.0 L86.0,97.2 L86.5,97.5 L87.0,97.7 L87.5,97.9 L88.0,98.1 L88.5,98.3 L89.0,98.5 L89.5,98.6 L90.0,98.7 L90.5,98.8 L91.0,98.9 L91.5,99.0 L92.0,99.1 L92.5,99.1 L93.0,99.2 L93.5,99.3"/>
<path d="M57.5,105.3 L58.0,104.8 L58.5,104.3 L59.0,103.7 L59.5,103.1 L60.0,102.5 L60.5,101.8 L61.0,101.2 L61.5,100.5 L62.0,99.7 L62.5,99.0 L63.0,98.2 L63.5,97.5 L64.0,96.7 L64.5,95.9 L65.0,95.1 L65.5,94.4 L66.0,93.7 L66.5,93.0 L67.0,92.3 L67.5,91.7 L68.0,91.1 L68.5,90.5 L69.0,90.1 L69.5,89.7 L70.0,89.3 L70.5,89.1 L71.0,88.9 L71.5,88.7 L72.0,88.7 L72.5,88.7 L73.0,88.8 L73.5,88.9 L74.0,89.1 L74.5,89.3 L75.0,89.6 L75.5,89.9 L76.0,90.2 L76.5,90.6 L77.0,91.0 L77.5,91.4 L78.0,91.9 L78.5,92.3 L79.0,92.8 L79.5,93.3 L80.0,93.8 L80.5,94.2 L81.0,94.7 L81.5,95.2 L82.0,95.6 L82.5,96.1 L83.0,96.5 L83.5,96.9 L84.0,97.3 L84.5,97.6 L85.0,98.0 L85.5,98.3 L86.0,98.6 L86.5,98.8 L87.0,99.1 L87.5,99.3 L88.0,99.5 L88.5,99.7 L89.0,99.9 L89.5,100.0 L90.0,100.2 L90.5,100.3 L91.0,100.4 L91.5,100.5 L92.0,100.5 L92.5,100.6 L93.0,100.7 L93.5,100.7"/>
<path d="M57.5,105.4 L58.0,104.9 L58.5,104.4 L59.0,103.9 L59.5,103.3 L60.0,102.7 L60.5,102.1 L61.0,101.4 L61.5,100.7 L62.0,100.0 L62.5,99.3 L63.0,98.6 L63.5,97.8 L64.0,97.0 L64.5,96.3 L65.0,95.6 L65.5,94.8 L66.0,94.1 L66.5,93.4 L67.0,92.8 L67.5,92.2 L68.0,91.6 L68.5,91.1 L69.0,90.6 L69.5,90.2 L70.0,89.9 L70.5,89.6 L71.0,89.5 L71.5,89.3 L72.0,89.3 L72.5,89.3 L73.0,89.4 L73.5,89.5 L74.0,89.7 L74.5,90.0 L75.0,90.2 L75.5,90.6 L76.0,90.9 L76.5,91.3 L77.0,91.8 L77.5,92.2 L78.0,92.7 L78.5,93.2 L79.0,93.7 L79.5,94.2 L80.0,94.7 L80.5,95.2 L81.0,95.7 L81.5,96.2 L82.0,96.7 L82.5,97.2 L83.0,97.6 L83.5,98.1 L84.0,98.5 L84.5,98.9 L85.0,99.2 L85.5,99.6 L86.0,99.9 L86.5,100.2 L87.0,100.4 L87.5,100.7 L88.0,100.9 L88.5,101.1 L89.0,101.3 L89.5,101.4 L90.0,101.6 L90.5,101.7 L91.0,101.8 L91.5,101.9 L92.0,102.0 L92.5,102.1 L93.0,102.2 L93.5,102.2"/>
<path d="M57.5,105.5 L58.0,105.0 L58.5,104.6 L59.0,104.0 L59.5,103.5 L60.0,102.9 L60.5,102.3 L61.0,101.6 L61.5,101.0 L62.0,100.3 L62.5,99.6 L63.0,98.9 L63.5,98.2 L64.0,97.4 L64.5,96.7 L65.0,96.0 L65.5,95.3 L66.0,94.6 L66.5,93.9 L67.0,93.3 L67.5,92.7 L68.0,92.1 L68.5,91.6 L69.0,91.2 L69.5,90.8 L70.0,90.5 L70.5,90.2 L71.0,90.0 L71.5,89.9 L72.0,89.9 L72.5,89.9 L73.0,90.0 L73.5,90.2 L74.0,90.4 L74.5,90.6 L75.0,90.9 L75.5,91.3 L76.0,91.6 L76.5,92.1 L77.0,92.5 L77.5,93.0 L78.0,93.5 L78.5,94.1 L79.0,94.6 L79.5,95.1 L80.0,95.7 L80.5,96.2 L81.0,96.8 L81.5,97.3 L82.0,97.8 L82.5,98.3 L83.0,98.8 L83.5,99.3 L84.0,99.7 L84.5,100.1 L85.0,100.5 L85.5,100.9 L86.0,101.2 L86.5,101.5 L87.0,101.8 L87.5,102.1 L88.0,102.3 L88.5,102.5 L89.0,102.7 L89.5,102.9 L90.0,103.0 L90.5,103.2 L91.0,103.3 L91.5,103.4 L92.0,103.5 L92.5,103.6 L93.0,103.6 L93.5,103.7"/>
<path d="M57.5,105.6 L58.0,105.2 L58.5,104.7 L59.0,104.2 L59.5,103.7 L60.0,103.1 L60.5,102.5 L61.0,101.9 L61.5,101.2 L62.0,100.6 L62.5,99.9 L63.0,99.2 L63.5,98.5 L64.0,97.8 L64.5,97.1 L65.0,96.4 L65.5,95.7 L66.0,95.0 L66.5,94.4 L67.0,93.8 L67.5,93.2 L68.0,92.7 L68.5,92.2 L69.0,91.7 L69.5,91.4 L70.0,91.1 L70.5,90.8 L71.0,90.6 L71.5,90.5 L72.0,90.5 L72.5,90.5 L73.0,90.6 L73.5,90.8 L74.0,91.0 L74.5,91.3 L75.0,91.6 L75.5,91.9 L76.0,92.4 L76.5,92.8 L77.0,93.3 L77.5,93.8 L78.0,94.4 L78.5,94.9 L79.0,95.5 L79.5,96.1 L80.0,96.7 L80.5,97.2 L81.0,97.8 L81.5,98.4 L82.0,98.9 L82.5,99.5 L83.0,100.0 L83.5,100.5 L84.0,100.9 L84.5,101.4 L85.0,101.8 L85.5,102.2 L86.0,102.5 L86.5,102.9 L87.0,103.2 L87.5,103.4 L88.0,103.7 L88.5,103.9 L89.0,104.1 L89.5,104.3 L90.0,104.5 L90.5,104.6 L91.0,104.7 L91.5,104.9 L92.0,104.9 L92.5,105.0 L93.0,105.1 L93.5,105.2"/>
<path d="M57.5,103.2 L58.0,102.6 L58.5,101.9 L59.0,101.3 L59.5,100.7 L60.0,100.1 L60.5,99.5 L61.0,98.9 L61.5,98.3 L62.0,97.7 L62.5,97.0 L63.0,96.4 L63.5,95.8 L64.0,95.2 L64.5,94.6 L65.0,94.0 L65.5,93.5 L66.0,92.9 L66.5,92.3 L67.0,91.7 L67.5,91.2 L68.0,90.6 L68.5,90.1 L69.0,89.6 L69.5,89.1 L70.0,88.7 L70.5,88.3 L71.0,88.0 L71.5,87.9 L72.0,87.8 L72.5,87.8 L73.0,87.9 L73.5,88.1 L74.0,88.3 L74.5,88.6 L75.0,88.9 L75.5,89.3 L76.0,89.7 L76.5,90.2 L77.0,90.7 L77.5,91.2 L78.0,91.7 L78.5,92.3 L79.0,92.8 L79.5,93.4 L80.0,93.9 L80.5,94.5 L81.0,95.0 L81.5,95.5 L82.0,96.0 L82.5,96.5 L83.0,96.9 L83.5,97.3 L84.0,97.7 L84.5,98.1 L85.0,98.4 L85.5,98.7 L86.0,99.0 L86.5,99.2 L87.0,99.4 L87.5,99.6 L88.0,99.8 L88.5,99.9 L89.0,100.1 L89.5,100.2 L90.0,100.3 L90.5,100.4 L91.0,100.4 L91.5,100.5 L92.0,100.6 L92.5,100.6 L93.0,100.6 L93.5,100.7"/>
<path d="M57.5,104.2 L58.0,103.6 L58.5,102.9 L59.0,102.3 L59.5,101.7 L60.0,101.1 L60.5,100.5 L61.0,99.9 L61.5,99.3 L62.0,98.7 L62.5,98.0 L63.0,97.4 L63.5,96.8 L64.0,96.2 L64.5,95.6 L65.0,95.0 L65.5,94.5 L66.0,93.9 L66.5,93.3 L67.0,92.7 L67.5,92.2 L68.0,91.6 L68.5,91.1 L69.0,90.6 L69.5,90.1 L70.0,89.7 L70.5,89.3 L71.0,89.0 L71.5,88.9 L72.0,88.8 L72.5,88.8 L73.0,88.9 L73.5,89.1 L74.0,89.3 L74.5,89.6 L75.0,89.9 L75.5,90.3 L76.0,90.7 L76.5,91.2 L77.0,91.7 L77.5,92.2 L78.0,92.7 L78.5,93.3 L79.0,93.8 L79.5,94.4 L80.0,94.9 L80.5,95.5 L81.0,96.0 L81.5,96.5 L82.0,97.0 L82.5,97.5 L83.0,97.9 L83.5,98.3 L84.0,98.7 L84.5,99.1 L85.0,99.4 L85.5,99.7 L86.0,100.0 L86.5,100.2 L87.0,100.4 L87.5,100.6 L88.0,100.8 L88.5,100.9 L89.0,101.1 L89.5,101.2 L90.0,101.3 L90.5,101.4 L91.0,101.4 L91.5,101.5 L92.0,101.6 L92.5,101.6 L93.0,101.6 L93.5,101.7"/>
<path d="M57.5,101.4 L58.0,101.3 L58.5,101.3 L59.0,101.2 L59.5,101.2 L60.0,101.1 L60.5,101.0 L61.0,101.0 L61.5,100.9 L62.0,100.7 L62.5,100.6 L63.0,100.5 L63.5,100.3 L64.0,100.2 L64.5,100.0 L65.0,99.8 L65.5,99.6 L66.0,99.4 L66.5,99.3 L67.0,99.1 L67.5,98.9 L68.0,98.7 L68.5,98.5 L69.0,98.4 L69.5,98.2 L70.0,98.1 L70.5,98.0 L71.0,98.0 L71.5,97.9 L72.0,97.9 L72.5,97.9 L73.0,98.0 L73.5,98.0 L74.0,98.1 L74.5,98.2 L75.0,98.4 L75.5,98.5 L76.0,98.7 L76.5,98.9 L77.0,99.1 L77.5,99.3 L78.0,99.4 L78.5,99.6 L79.0,99.8 L79.5,100.0 L80.0,100.2 L80.5,100.3 L81.0,100.5 L81.5,100.6 L82.0,100.7 L82.5,100.9 L83.0,101.0 L83.5,101.0 L84.0,101.1 L84.5,101.2 L85.0,101.2 L85.5,101.3 L86.0,101.3 L86.5,101.4 L87.0,101.4 L87.5,101.4 L88.0,101.4 L88.5,101.4 L89.0,101.5 L89.5,101.5 L90.0,101.5 L90.5,101.5 L91.0,101.5 L91.5,101.5 L92.0,101.5 L92.5,101.5 L93.0,101.5 L93.5,101.5"/>
<path d="M57.5,101.9 L58.0,101.8 L58.5,101.8 L59.0,101.8 L59.5,101.7 L60.0,101.7 L60.5,101.6 L61.0,101.5 L61.5,101.4 L62.0,101.3 L62.5,101.2 L63.0,101.1 L63.5,100.9 L64.0,100.8 L64.5,100.6 L65.0,100.5 L65.5,100.3 L66.0,100.1 L66.5,99.9 L67.0,99.8 L67.5,99.6 L68.0,99.4 L68.5,99.3 L69.0,99.1 L69.5,99.0 L70.0,98.9 L70.5,98.8 L71.0,98.8 L71.5,98.7 L72.0,98.7 L72.5,98.7 L73.0,98.8 L73.5,98.8 L74.0,98.9 L74.5,99.0 L75.0,99.1 L75.5,99.3 L76.0,99.4 L76.5,99.6 L77.0,99.8 L77.5,99.9 L78.0,100.1 L78.5,100.3 L79.0,100.5 L79.5,100.6 L80.0,100.8 L80.5,100.9 L81.0,101.1 L81.5,101.2 L82.0,101.3 L82.5,101.4 L83.0,101.5 L83.5,101.6 L84.0,101.7 L84.5,101.7 L85.0,101.8 L85.5,101.8 L86.0,101.8 L86.5,101.9 L87.0,101.9 L87.5,101.9 L88.0,101.9 L88.5,102.0 L89.0,102.0 L89.5,102.0 L90.0,102.0 L90.5,102.0 L91.0,102.0 L91.5,102.0 L92.0,102.0 L92.5,102.0 L93.0,102.0 L93.5,102.0"/>
<path d="M57.5,102.4 L58.0,102.4 L58.5,102.3 L59.0,102.3 L59.5,102.2 L60.0,102.2 L60.5,102.1 L61.0,102.0 L61.5,102.0 L62.0,101.9 L62.5,101.8 L63.0,101.7 L63.5,101.5 L64.0,101.4 L64.5,101.3 L65.0,101.1 L65.5,100.9 L66.0,100.8 L66.5,100.6 L67.0,100.5 L67.5,100.3 L68.0,100.2 L68.5,100.0 L69.0,99.9 L69.5,99.8 L70.0,99.7 L70.5,99.6 L71.0,99.5 L71.5,99.5 L72.0,99.5 L72.5,99.5 L73.0,99.5 L73.5,99.6 L74.0,99.7 L74.5,99.8 L75.0,99.9 L75.5,100.0 L76.0,100.2 L76.5,100.3 L77.0,100.5 L77.5,100.6 L78.0,100.8 L78.5,100.9 L79.0,101.1 L79.5,101.3 L80.0,101.4 L80.5,101.5 L81.0,101.7 L81.5,101.8 L82.0,101.9 L82.5,102.0 L83.0,102.0 L83.5,102.1 L84.0,102.2 L84.5,102.2 L85.0,102.3 L85.5,102.3 L86.0,102.4 L86.5,102.4 L87.0,102.4 L87.5,102.4 L88.0,102.4 L88.5,102.5 L89.0,102.5 L89.5,102.5 L90.0,102.5 L90.5,102.5 L91.0,102.5 L91.5,102.5 L92.0,102.5 L92.5,102.5 L93.0,102.5 L93.5,102.5"/>
<path d="M57.5,102.9 L58.0,102.9 L58.5,102.8 L59.0,102.8 L59.5,102.8 L60.0,102.7 L60.5,102.7 L61.0,102.6 L61.5,102.5 L62.0,102.4 L62.5,102.3 L63.0,102.2 L63.5,102.1 L64.0,102.0 L64.5,101.9 L65.0,101.7 L65.5,101.6 L66.0,101.5 L66.5,101.3 L67.0,101.2 L67.5,101.0 L68.0,100.9 L68.5,100.8 L69.0,100.7 L69.5,100.6 L70.0,100.5 L70.5,100.4 L71.0,100.3 L71.5,100.3 L72.0,100.3 L72.5,100.3 L73.0,100.3 L73.5,100.4 L74.0,100.5 L74.5,100.6 L75.0,100.7 L75.5,100.8 L76.0,100.9 L76.5,101.0 L77.0,101.2 L77.5,101.3 L78.0,101.5 L78.5,101.6 L79.0,101.7 L79.5,101.9 L80.0,102.0 L80.5,102.1 L81.0,102.2 L81.5,102.3 L82.0,102.4 L82.5,102.5 L83.0,102.6 L83.5,102.7 L84.0,102.7 L84.5,102.8 L85.0,102.8 L85.5,102.8 L86.0,102.9 L86.5,102.9 L87.0,102.9 L87.5,102.9 L88.0,103.0 L88.5,103.0 L89.0,103.0 L89.5,103.0 L90.0,103.0 L90.5,103.0 L91.0,103.0 L91.5,103.0 L92.0,103.0 L92.5,103.0 L93.0,103.0 L93.5,103.0"/>
<path d="M57.5,103.4 L58.0,103.4 L58.5,103.4 L59.0,103.3 L59.5,103.3 L60.0,103.2 L60.5,103.2 L61.0,103.1 L61.5,103.1 L62.0,103.0 L62.5,102.9 L63.0,102.8 L63.5,102.7 L64.0,102.6 L64.5,102.5 L65.0,102.4 L65.5,102.3 L66.0,102.1 L66.5,102.0 L67.0,101.9 L67.5,101.8 L68.0,101.6 L68.5,101.5 L69.0,101.4 L69.5,101.3 L70.0,101.2 L70.5,101.2 L71.0,101.1 L71.5,101.1 L72.0,101.1 L72.5,101.1 L73.0,101.1 L73.5,101.2 L74.0,101.2 L74.5,101.3 L75.0,101.4 L75.5,101.5 L76.0,101.6 L76.5,101.8 L77.0,101.9 L77.5,102.0 L78.0,102.1 L78.5,102.3 L79.0,102.4 L79.5,102.5 L80.0,102.6 L80.5,102.7 L81.0,102.8 L81.5,102.9 L82.0,103.0 L82.5,103.1 L83.0,103.1 L83.5,103.2 L84.0,103.2 L84.5,103.3 L85.0,103.3 L85.5,103.4 L86.0,103.4 L86.5,103.4 L87.0,103.4 L87.5,103.4 L88.0,103.5 L88.5,103.5 L89.0,103.5 L89.5,103.5 L90.0,103.5 L90.5,103.5 L91.0,103.5 L91.5,103.5 L92.0,103.5 L92.5,103.5 L93.0,103.5 L93.5,103.5"/>
</g>
</g>
<line x1="57.5" y1="76.0" x2="93.5" y2="76.0" stroke="#4a5cb0" stroke-width="0.7" stroke-dasharray="1.6,1.4"/>
<line x1="72.0" y1="45.3" x2="72.0" y2="55.1" stroke="#7f8db0" stroke-width="0.55"/>
<line x1="72.0" y1="63.4" x2="72.0" y2="72.3" stroke="#7f8db0" stroke-width="0.55"/>
<path d="M71.2,46.4 L72.0,45.0 L72.8,46.4Z" fill="#2e4a78"/>
<path d="M71.2,71.1 L72.0,72.5 L72.8,71.1Z" fill="#2e4a78"/>
<text x="67.40" y="60.90" font-size="4.6" fill="#555" font-weight="normal" textLength="8.96" lengthAdjust="spacingAndGlyphs" >1.49</text>
<text x="61.43" y="11.60" font-size="4.9" fill="#3c3c3c" stroke="#3c3c3c" stroke-width="0.06" font-weight="normal" textLength="22.53" lengthAdjust="spacingAndGlyphs" >Strain-free</text>
<text x="68.16" y="17.30" font-size="4.9" fill="#3c3c3c" stroke="#3c3c3c" stroke-width="0.06" font-weight="normal" textLength="10.29" lengthAdjust="spacingAndGlyphs" >(0%)</text>
<text x="57.5" y="105.5" font-size="4.5" fill="#666" text-anchor="middle">X</text>
<text x="72.0" y="105.5" font-size="4.5" fill="#666" text-anchor="middle">A</text>
<text x="93.5" y="105.5" font-size="4.5" fill="#666" text-anchor="middle">Γ</text>
<rect x="101.5" y="7.3" width="36.0" height="91.9" fill="none" stroke="#a9a9a9" stroke-width="0.8"/>
<line x1="116.0" y1="7.3" x2="116.0" y2="99.2" stroke="#a9a9a9" stroke-width="0.6"/>
<clipPath id="c2"><rect x="101.5" y="20.0" width="36.0" height="79.2"/></clipPath>
<g clip-path="url(#c2)" fill="none" stroke="#3561ae" stroke-width="0.7">
<path d="M109.5,19.0 L113.0,19.0 L115.5,45.8 Z" fill="#3f6ab6" fill-opacity="0.8" stroke="none"/>
<path d="M109.5,19.0 L115.5,45.8 L116.0,47.6"/>
<path d="M111.2,19.0 L115.5,45.8 L116.0,47.6"/>
<path d="M113.0,19.0 L115.5,45.8 L116.0,47.6"/>
<path d="M120.0,19.0 L126.0,19.0 L115.5,45.8 Z" fill="#3f6ab6" fill-opacity="0.8" stroke="none"/>
<path d="M120.0,19.0 L115.5,45.8 L116.0,47.6"/>
<path d="M123.0,19.0 L115.5,45.8 L116.0,47.6"/>
<path d="M126.0,19.0 L115.5,45.8 L116.0,47.6"/>
<path d="M111.7,19.0 Q115.4,44.8 116.0,43.6 Q116.6,44.8 122.4,19.0" stroke-width="0.5"/>
<path d="M112.2,19.0 Q115.4,41.9 116.0,40.7 Q116.6,41.9 121.6,19.0" stroke-width="0.5"/>
<path d="M112.7,19.0 Q115.4,39.0 116.0,37.8 Q116.6,39.0 120.8,19.0" stroke-width="0.5"/>
<path d="M101.5,25.4 Q107.2,26.8 112.9,31.4 Q115.5,47.3 116.0,47.6"/>
<path d="M101.5,27.2 Q107.4,28.8 113.3,33.6 Q115.5,47.3 116.0,47.6"/>
<path d="M101.5,29.0 Q107.6,30.8 113.7,35.8 Q115.5,47.3 116.0,47.6"/>
<path d="M101.5,30.8 Q107.8,32.8 114.0,37.9 Q115.5,47.3 116.0,47.6"/>
<path d="M101.5,32.6 Q108.0,34.7 114.4,40.1 Q115.5,47.3 116.0,47.6"/>
<path d="M101.5,34.4 Q108.1,36.7 114.8,42.3 Q115.5,47.3 116.0,47.6"/>
<path d="M101.5,36.4 Q108.3,38.8 115.2,44.4 Q115.5,47.3 116.0,47.6"/>
<path d="M101.5,38.5 Q108.5,40.9 115.5,46.6 Q115.5,47.3 116.0,47.6"/>
<path d="M116.0,47.6 L116.5,47.0 L117.0,46.1 L117.5,45.0 L118.0,43.9 L118.5,42.9 L119.0,41.8 L119.5,40.8 L120.0,39.8 L120.5,38.8 L121.0,37.8 L121.5,36.9 L122.0,35.9 L122.5,35.0 L123.0,34.2 L123.5,33.3 L124.0,32.5 L124.5,31.8 L125.0,31.1 L125.5,30.4 L126.0,29.7 L126.5,29.1 L127.0,28.5 L127.5,27.9 L128.0,27.3 L128.5,26.8 L129.0,26.4 L129.5,25.9 L130.0,25.5 L130.5,25.1 L131.0,24.7 L131.5,24.3 L132.0,24.0 L132.5,23.7 L133.0,23.4 L133.5,23.1 L134.0,22.9 L134.5,22.7 L135.0,22.4 L135.5,22.2 L136.0,22.0 L136.5,21.9 L137.0,21.7 L137.5,21.6"/>
<path d="M116.0,47.6 L116.5,47.5 L117.0,47.3 L117.5,46.9 L118.0,46.5 L118.5,46.0 L119.0,45.4 L119.5,44.9 L120.0,44.3 L120.5,43.7 L121.0,43.0 L121.5,42.4 L122.0,41.8 L122.5,41.2 L123.0,40.6 L123.5,40.0 L124.0,39.4 L124.5,38.8 L125.0,38.2 L125.5,37.6 L126.0,37.1 L126.5,36.5 L127.0,36.0 L127.5,35.5 L128.0,35.0 L128.5,34.5 L129.0,34.0 L129.5,33.5 L130.0,33.1 L130.5,32.6 L131.0,32.2 L131.5,31.8 L132.0,31.4 L132.5,31.1 L133.0,30.7 L133.5,30.4 L134.0,30.0 L134.5,29.7 L135.0,29.4 L135.5,29.1 L136.0,28.9 L136.5,28.6 L137.0,28.3 L137.5,28.1"/>
<line x1="116.0" y1="20.0" x2="116.0" y2="45.1" stroke="#ffffff" stroke-opacity="0.6" stroke-width="1.0"/><line x1="116.0" y1="20.0" x2="116.0" y2="45.1" stroke="#b8b8b8" stroke-width="0.4"/>
<g stroke-width="0.95">
<path d="M101.5,92.1 L102.0,92.0 L102.5,92.0 L103.0,91.9 L103.5,91.8 L104.0,91.7 L104.5,91.5 L105.0,91.4 L105.5,91.2 L106.0,91.0 L106.5,90.7 L107.0,90.4 L107.5,90.1 L108.0,89.8 L108.5,89.4 L109.0,88.9 L109.5,88.5 L110.0,88.0 L110.5,87.5 L111.0,87.0 L111.5,86.5 L112.0,86.0 L112.5,85.6 L113.0,85.1 L113.5,84.8 L114.0,84.4 L114.5,84.2 L115.0,84.0 L115.5,83.8 L116.0,83.8 L116.5,84.5 L117.0,85.6 L117.5,86.8 L118.0,88.0 L118.5,89.2 L119.0,90.3 L119.5,91.4 L120.0,92.5 L120.5,93.5 L121.0,94.4 L121.5,95.3 L122.0,96.2 L122.5,97.0 L123.0,97.7 L123.5,98.4 L124.0,99.0 L124.5,99.6 L125.0,100.1 L125.5,100.6 L126.0,101.0 L126.5,101.4 L127.0,101.7 L127.5,102.1 L128.0,102.4 L128.5,102.6 L129.0,102.8 L129.5,103.1 L130.0,103.2 L130.5,103.4 L131.0,103.6 L131.5,103.7 L132.0,103.8 L132.5,103.9 L133.0,104.0 L133.5,104.1 L134.0,104.2 L134.5,104.3 L135.0,104.3 L135.5,104.4 L136.0,104.4 L136.5,104.5 L137.0,104.5 L137.5,104.5"/>
<path d="M101.5,93.1 L102.0,93.1 L102.5,93.0 L103.0,92.9 L103.5,92.8 L104.0,92.7 L104.5,92.6 L105.0,92.4 L105.5,92.2 L106.0,91.9 L106.5,91.6 L107.0,91.3 L107.5,91.0 L108.0,90.6 L108.5,90.1 L109.0,89.7 L109.5,89.2 L110.0,88.6 L110.5,88.1 L111.0,87.5 L111.5,87.0 L112.0,86.4 L112.5,85.9 L113.0,85.4 L113.5,85.0 L114.0,84.7 L114.5,84.4 L115.0,84.1 L115.5,84.0 L116.0,84.0 L116.5,84.6 L117.0,85.8 L117.5,87.0 L118.0,88.2 L118.5,89.4 L119.0,90.5 L119.5,91.6 L120.0,92.7 L120.5,93.7 L121.0,94.7 L121.5,95.6 L122.0,96.5 L122.5,97.3 L123.0,98.1 L123.5,98.8 L124.0,99.5 L124.5,100.1 L125.0,100.7 L125.5,101.2 L126.0,101.7 L126.5,102.1 L127.0,102.5 L127.5,102.9 L128.0,103.2 L128.5,103.5 L129.0,103.7 L129.5,104.0 L130.0,104.2 L130.5,104.4 L131.0,104.6 L131.5,104.8 L132.0,104.9 L132.5,105.0 L133.0,105.1 L133.5,105.3 L134.0,105.3 L134.5,105.4 L135.0,105.5 L135.5,105.6 L136.0,105.6 L136.5,105.7 L137.0,105.7 L137.5,105.8"/>
<path d="M101.5,94.2 L102.0,94.1 L102.5,94.1 L103.0,94.0 L103.5,93.9 L104.0,93.7 L104.5,93.6 L105.0,93.4 L105.5,93.1 L106.0,92.9 L106.5,92.6 L107.0,92.2 L107.5,91.8 L108.0,91.4 L108.5,90.9 L109.0,90.4 L109.5,89.8 L110.0,89.2 L110.5,88.6 L111.0,88.0 L111.5,87.4 L112.0,86.8 L112.5,86.3 L113.0,85.8 L113.5,85.3 L114.0,84.9 L114.5,84.6 L115.0,84.3 L115.5,84.2 L116.0,84.1 L116.5,84.8 L117.0,85.9 L117.5,87.1 L118.0,88.3 L118.5,89.5 L119.0,90.7 L119.5,91.8 L120.0,92.9 L120.5,93.9 L121.0,95.0 L121.5,95.9 L122.0,96.8 L122.5,97.7 L123.0,98.5 L123.5,99.2 L124.0,99.9 L124.5,100.6 L125.0,101.2 L125.5,101.8 L126.0,102.3 L126.5,102.8 L127.0,103.2 L127.5,103.6 L128.0,104.0 L128.5,104.3 L129.0,104.6 L129.5,104.9 L130.0,105.1 L130.5,105.4 L131.0,105.6 L131.5,105.8 L132.0,105.9 L132.5,106.1 L133.0,106.2 L133.5,106.4 L134.0,106.5 L134.5,106.6 L135.0,106.7 L135.5,106.8 L136.0,106.8 L136.5,106.9 L137.0,107.0 L137.5,107.0"/>
<path d="M101.5,95.2 L102.0,95.2 L102.5,95.1 L103.0,95.0 L103.5,94.9 L104.0,94.7 L104.5,94.6 L105.0,94.4 L105.5,94.1 L106.0,93.8 L106.5,93.5 L107.0,93.1 L107.5,92.7 L108.0,92.2 L108.5,91.7 L109.0,91.1 L109.5,90.5 L110.0,89.9 L110.5,89.2 L111.0,88.5 L111.5,87.9 L112.0,87.2 L112.5,86.6 L113.0,86.1 L113.5,85.5 L114.0,85.1 L114.5,84.8 L115.0,84.5 L115.5,84.3 L116.0,84.3 L116.5,85.0 L117.0,86.1 L117.5,87.3 L118.0,88.5 L118.5,89.7 L119.0,90.9 L119.5,92.0 L120.0,93.1 L120.5,94.2 L121.0,95.2 L121.5,96.2 L122.0,97.1 L122.5,98.0 L123.0,98.8 L123.5,99.6 L124.0,100.4 L124.5,101.0 L125.0,101.7 L125.5,102.3 L126.0,102.9 L126.5,103.4 L127.0,103.8 L127.5,104.3 L128.0,104.7 L128.5,105.1 L129.0,105.4 L129.5,105.7 L130.0,106.0 L130.5,106.3 L131.0,106.5 L131.5,106.7 L132.0,106.9 L132.5,107.1 L133.0,107.3 L133.5,107.4 L134.0,107.6 L134.5,107.7 L135.0,107.8 L135.5,107.9 L136.0,108.0 L136.5,108.1 L137.0,108.2 L137.5,108.2"/>
<path d="M101.5,96.3 L102.0,96.2 L102.5,96.2 L103.0,96.1 L103.5,95.9 L104.0,95.8 L104.5,95.6 L105.0,95.3 L105.5,95.1 L106.0,94.8 L106.5,94.4 L107.0,94.0 L107.5,93.5 L108.0,93.0 L108.5,92.4 L109.0,91.8 L109.5,91.2 L110.0,90.5 L110.5,89.8 L111.0,89.1 L111.5,88.3 L112.0,87.6 L112.5,87.0 L113.0,86.4 L113.5,85.8 L114.0,85.3 L114.5,85.0 L115.0,84.7 L115.5,84.5 L116.0,84.4 L116.5,85.1 L117.0,86.3 L117.5,87.5 L118.0,88.7 L118.5,89.9 L119.0,91.0 L119.5,92.2 L120.0,93.3 L120.5,94.4 L121.0,95.4 L121.5,96.4 L122.0,97.4 L122.5,98.3 L123.0,99.2 L123.5,100.0 L124.0,100.7 L124.5,101.5 L125.0,102.2 L125.5,102.8 L126.0,103.4 L126.5,103.9 L127.0,104.5 L127.5,104.9 L128.0,105.4 L128.5,105.8 L129.0,106.2 L129.5,106.5 L130.0,106.8 L130.5,107.1 L131.0,107.4 L131.5,107.7 L132.0,107.9 L132.5,108.1 L133.0,108.3 L133.5,108.5 L134.0,108.6 L134.5,108.8 L135.0,108.9 L135.5,109.0 L136.0,109.1 L136.5,109.2 L137.0,109.3 L137.5,109.4"/>
<path d="M101.5,97.4 L102.0,97.3 L102.5,97.2 L103.0,97.1 L103.5,97.0 L104.0,96.8 L104.5,96.6 L105.0,96.3 L105.5,96.1 L106.0,95.7 L106.5,95.3 L107.0,94.9 L107.5,94.4 L108.0,93.8 L108.5,93.2 L109.0,92.5 L109.5,91.8 L110.0,91.1 L110.5,90.3 L111.0,89.6 L111.5,88.8 L112.0,88.1 L112.5,87.3 L113.0,86.7 L113.5,86.1 L114.0,85.6 L114.5,85.2 L115.0,84.8 L115.5,84.7 L116.0,84.6 L116.5,85.3 L117.0,86.4 L117.5,87.6 L118.0,88.8 L118.5,90.0 L119.0,91.2 L119.5,92.4 L120.0,93.5 L120.5,94.6 L121.0,95.6 L121.5,96.7 L122.0,97.6 L122.5,98.6 L123.0,99.5 L123.5,100.3 L124.0,101.1 L124.5,101.9 L125.0,102.6 L125.5,103.3 L126.0,103.9 L126.5,104.5 L127.0,105.0 L127.5,105.6 L128.0,106.0 L128.5,106.5 L129.0,106.9 L129.5,107.3 L130.0,107.6 L130.5,108.0 L131.0,108.3 L131.5,108.5 L132.0,108.8 L132.5,109.0 L133.0,109.2 L133.5,109.4 L134.0,109.6 L134.5,109.8 L135.0,110.0 L135.5,110.1 L136.0,110.2 L136.5,110.3 L137.0,110.5 L137.5,110.6"/>
<path d="M101.5,110.1 L102.0,109.6 L102.5,109.1 L103.0,108.5 L103.5,107.8 L104.0,107.2 L104.5,106.5 L105.0,105.8 L105.5,105.0 L106.0,104.3 L106.5,103.5 L107.0,102.7 L107.5,101.9 L108.0,101.0 L108.5,100.2 L109.0,99.4 L109.5,98.6 L110.0,97.8 L110.5,97.1 L111.0,96.4 L111.5,95.7 L112.0,95.1 L112.5,94.5 L113.0,94.0 L113.5,93.6 L114.0,93.3 L114.5,93.0 L115.0,92.8 L115.5,92.6 L116.0,92.6 L116.5,92.6 L117.0,92.7 L117.5,92.8 L118.0,92.9 L118.5,93.1 L119.0,93.4 L119.5,93.6 L120.0,93.9 L120.5,94.2 L121.0,94.6 L121.5,94.9 L122.0,95.3 L122.5,95.7 L123.0,96.1 L123.5,96.5 L124.0,96.9 L124.5,97.3 L125.0,97.7 L125.5,98.1 L126.0,98.5 L126.5,98.9 L127.0,99.2 L127.5,99.6 L128.0,99.9 L128.5,100.2 L129.0,100.5 L129.5,100.8 L130.0,101.0 L130.5,101.3 L131.0,101.5 L131.5,101.7 L132.0,101.8 L132.5,102.0 L133.0,102.1 L133.5,102.3 L134.0,102.4 L134.5,102.5 L135.0,102.6 L135.5,102.6 L136.0,102.7 L136.5,102.8 L137.0,102.8 L137.5,102.9"/>
<path d="M101.5,110.2 L102.0,109.7 L102.5,109.2 L103.0,108.6 L103.5,108.0 L104.0,107.4 L104.5,106.7 L105.0,106.0 L105.5,105.3 L106.0,104.6 L106.5,103.8 L107.0,103.0 L107.5,102.2 L108.0,101.4 L108.5,100.6 L109.0,99.8 L109.5,99.1 L110.0,98.3 L110.5,97.6 L111.0,96.9 L111.5,96.2 L112.0,95.6 L112.5,95.1 L113.0,94.6 L113.5,94.2 L114.0,93.8 L114.5,93.6 L115.0,93.4 L115.5,93.2 L116.0,93.2 L116.5,93.2 L117.0,93.3 L117.5,93.4 L118.0,93.6 L118.5,93.8 L119.0,94.0 L119.5,94.3 L120.0,94.6 L120.5,95.0 L121.0,95.3 L121.5,95.7 L122.0,96.1 L122.5,96.6 L123.0,97.0 L123.5,97.4 L124.0,97.9 L124.5,98.3 L125.0,98.8 L125.5,99.2 L126.0,99.6 L126.5,100.0 L127.0,100.4 L127.5,100.8 L128.0,101.1 L128.5,101.5 L129.0,101.8 L129.5,102.1 L130.0,102.3 L130.5,102.6 L131.0,102.8 L131.5,103.0 L132.0,103.2 L132.5,103.4 L133.0,103.6 L133.5,103.7 L134.0,103.8 L134.5,103.9 L135.0,104.0 L135.5,104.1 L136.0,104.2 L136.5,104.2 L137.0,104.3 L137.5,104.4"/>
<path d="M101.5,110.4 L102.0,109.9 L102.5,109.4 L103.0,108.8 L103.5,108.2 L104.0,107.6 L104.5,106.9 L105.0,106.3 L105.5,105.6 L106.0,104.8 L106.5,104.1 L107.0,103.3 L107.5,102.6 L108.0,101.8 L108.5,101.0 L109.0,100.2 L109.5,99.5 L110.0,98.8 L110.5,98.1 L111.0,97.4 L111.5,96.8 L112.0,96.2 L112.5,95.6 L113.0,95.2 L113.5,94.8 L114.0,94.4 L114.5,94.2 L115.0,94.0 L115.5,93.8 L116.0,93.8 L116.5,93.8 L117.0,93.9 L117.5,94.0 L118.0,94.2 L118.5,94.4 L119.0,94.7 L119.5,95.0 L120.0,95.3 L120.5,95.7 L121.0,96.1 L121.5,96.5 L122.0,97.0 L122.5,97.4 L123.0,97.9 L123.5,98.4 L124.0,98.9 L124.5,99.3 L125.0,99.8 L125.5,100.3 L126.0,100.7 L126.5,101.2 L127.0,101.6 L127.5,102.0 L128.0,102.4 L128.5,102.7 L129.0,103.1 L129.5,103.4 L130.0,103.7 L130.5,103.9 L131.0,104.2 L131.5,104.4 L132.0,104.6 L132.5,104.8 L133.0,105.0 L133.5,105.1 L134.0,105.3 L134.5,105.4 L135.0,105.5 L135.5,105.6 L136.0,105.6 L136.5,105.7 L137.0,105.8 L137.5,105.8"/>
<path d="M101.5,110.5 L102.0,110.0 L102.5,109.5 L103.0,109.0 L103.5,108.4 L104.0,107.8 L104.5,107.2 L105.0,106.5 L105.5,105.8 L106.0,105.1 L106.5,104.4 L107.0,103.7 L107.5,102.9 L108.0,102.1 L108.5,101.4 L109.0,100.7 L109.5,99.9 L110.0,99.2 L110.5,98.5 L111.0,97.9 L111.5,97.3 L112.0,96.7 L112.5,96.2 L113.0,95.7 L113.5,95.3 L114.0,95.0 L114.5,94.7 L115.0,94.6 L115.5,94.4 L116.0,94.4 L116.5,94.4 L117.0,94.5 L117.5,94.6 L118.0,94.8 L118.5,95.1 L119.0,95.3 L119.5,95.7 L120.0,96.0 L120.5,96.4 L121.0,96.9 L121.5,97.3 L122.0,97.8 L122.5,98.3 L123.0,98.8 L123.5,99.3 L124.0,99.8 L124.5,100.3 L125.0,100.8 L125.5,101.3 L126.0,101.8 L126.5,102.3 L127.0,102.7 L127.5,103.2 L128.0,103.6 L128.5,104.0 L129.0,104.3 L129.5,104.7 L130.0,105.0 L130.5,105.3 L131.0,105.5 L131.5,105.8 L132.0,106.0 L132.5,106.2 L133.0,106.4 L133.5,106.5 L134.0,106.7 L134.5,106.8 L135.0,106.9 L135.5,107.0 L136.0,107.1 L136.5,107.2 L137.0,107.3 L137.5,107.3"/>
<path d="M101.5,110.6 L102.0,110.1 L102.5,109.7 L103.0,109.1 L103.5,108.6 L104.0,108.0 L104.5,107.4 L105.0,106.7 L105.5,106.1 L106.0,105.4 L106.5,104.7 L107.0,104.0 L107.5,103.3 L108.0,102.5 L108.5,101.8 L109.0,101.1 L109.5,100.4 L110.0,99.7 L110.5,99.0 L111.0,98.4 L111.5,97.8 L112.0,97.2 L112.5,96.7 L113.0,96.3 L113.5,95.9 L114.0,95.6 L114.5,95.3 L115.0,95.1 L115.5,95.0 L116.0,95.0 L116.5,95.0 L117.0,95.1 L117.5,95.3 L118.0,95.5 L118.5,95.7 L119.0,96.0 L119.5,96.4 L120.0,96.7 L120.5,97.2 L121.0,97.6 L121.5,98.1 L122.0,98.6 L122.5,99.2 L123.0,99.7 L123.5,100.2 L124.0,100.8 L124.5,101.3 L125.0,101.9 L125.5,102.4 L126.0,102.9 L126.5,103.4 L127.0,103.9 L127.5,104.4 L128.0,104.8 L128.5,105.2 L129.0,105.6 L129.5,106.0 L130.0,106.3 L130.5,106.6 L131.0,106.9 L131.5,107.2 L132.0,107.4 L132.5,107.6 L133.0,107.8 L133.5,108.0 L134.0,108.1 L134.5,108.3 L135.0,108.4 L135.5,108.5 L136.0,108.6 L136.5,108.7 L137.0,108.7 L137.5,108.8"/>
<path d="M101.5,110.7 L102.0,110.3 L102.5,109.8 L103.0,109.3 L103.5,108.8 L104.0,108.2 L104.5,107.6 L105.0,107.0 L105.5,106.3 L106.0,105.7 L106.5,105.0 L107.0,104.3 L107.5,103.6 L108.0,102.9 L108.5,102.2 L109.0,101.5 L109.5,100.8 L110.0,100.1 L110.5,99.5 L111.0,98.9 L111.5,98.3 L112.0,97.8 L112.5,97.3 L113.0,96.8 L113.5,96.5 L114.0,96.2 L114.5,95.9 L115.0,95.7 L115.5,95.6 L116.0,95.6 L116.5,95.6 L117.0,95.7 L117.5,95.9 L118.0,96.1 L118.5,96.4 L119.0,96.7 L119.5,97.0 L120.0,97.5 L120.5,97.9 L121.0,98.4 L121.5,98.9 L122.0,99.5 L122.5,100.0 L123.0,100.6 L123.5,101.2 L124.0,101.8 L124.5,102.3 L125.0,102.9 L125.5,103.5 L126.0,104.0 L126.5,104.6 L127.0,105.1 L127.5,105.6 L128.0,106.0 L128.5,106.5 L129.0,106.9 L129.5,107.3 L130.0,107.6 L130.5,108.0 L131.0,108.3 L131.5,108.5 L132.0,108.8 L132.5,109.0 L133.0,109.2 L133.5,109.4 L134.0,109.6 L134.5,109.7 L135.0,109.8 L135.5,110.0 L136.0,110.0 L136.5,110.1 L137.0,110.2 L137.5,110.3"/>
<path d="M101.5,108.3 L102.0,107.7 L102.5,107.0 L103.0,106.4 L103.5,105.8 L104.0,105.2 L104.5,104.6 L105.0,104.0 L105.5,103.4 L106.0,102.8 L106.5,102.1 L107.0,101.5 L107.5,100.9 L108.0,100.3 L108.5,99.7 L109.0,99.2 L109.5,98.6 L110.0,98.0 L110.5,97.4 L111.0,96.8 L111.5,96.3 L112.0,95.7 L112.5,95.2 L113.0,94.7 L113.5,94.2 L114.0,93.8 L114.5,93.4 L115.0,93.2 L115.5,93.0 L116.0,92.9 L116.5,92.9 L117.0,93.0 L117.5,93.2 L118.0,93.4 L118.5,93.7 L119.0,94.0 L119.5,94.4 L120.0,94.8 L120.5,95.3 L121.0,95.8 L121.5,96.3 L122.0,96.8 L122.5,97.4 L123.0,97.9 L123.5,98.5 L124.0,99.0 L124.5,99.6 L125.0,100.1 L125.5,100.6 L126.0,101.1 L126.5,101.6 L127.0,102.0 L127.5,102.4 L128.0,102.8 L128.5,103.2 L129.0,103.5 L129.5,103.8 L130.0,104.1 L130.5,104.3 L131.0,104.5 L131.5,104.7 L132.0,104.9 L132.5,105.0 L133.0,105.2 L133.5,105.3 L134.0,105.4 L134.5,105.5 L135.0,105.5 L135.5,105.6 L136.0,105.7 L136.5,105.7 L137.0,105.7 L137.5,105.8"/>
<path d="M101.5,109.3 L102.0,108.7 L102.5,108.0 L103.0,107.4 L103.5,106.8 L104.0,106.2 L104.5,105.6 L105.0,105.0 L105.5,104.4 L106.0,103.8 L106.5,103.1 L107.0,102.5 L107.5,101.9 L108.0,101.3 L108.5,100.7 L109.0,100.2 L109.5,99.6 L110.0,99.0 L110.5,98.4 L111.0,97.8 L111.5,97.3 L112.0,96.7 L112.5,96.2 L113.0,95.7 L113.5,95.2 L114.0,94.8 L114.5,94.4 L115.0,94.2 L115.5,94.0 L116.0,93.9 L116.5,93.9 L117.0,94.0 L117.5,94.2 L118.0,94.4 L118.5,94.7 L119.0,95.0 L119.5,95.4 L120.0,95.8 L120.5,96.3 L121.0,96.8 L121.5,97.3 L122.0,97.8 L122.5,98.4 L123.0,98.9 L123.5,99.5 L124.0,100.0 L124.5,100.6 L125.0,101.1 L125.5,101.6 L126.0,102.1 L126.5,102.6 L127.0,103.0 L127.5,103.4 L128.0,103.8 L128.5,104.2 L129.0,104.5 L129.5,104.8 L130.0,105.1 L130.5,105.3 L131.0,105.5 L131.5,105.7 L132.0,105.9 L132.5,106.0 L133.0,106.2 L133.5,106.3 L134.0,106.4 L134.5,106.5 L135.0,106.5 L135.5,106.6 L136.0,106.7 L136.5,106.7 L137.0,106.7 L137.5,106.8"/>
<path d="M101.5,102.3 L102.0,102.2 L102.5,102.2 L103.0,102.1 L103.5,102.1 L104.0,102.0 L104.5,101.9 L105.0,101.9 L105.5,101.8 L106.0,101.6 L106.5,101.5 L107.0,101.4 L107.5,101.2 L108.0,101.1 L108.5,100.9 L109.0,100.7 L109.5,100.5 L110.0,100.3 L110.5,100.2 L111.0,100.0 L111.5,99.8 L112.0,99.6 L112.5,99.4 L113.0,99.3 L113.5,99.1 L114.0,99.0 L114.5,98.9 L115.0,98.9 L115.5,98.8 L116.0,98.8 L116.5,98.8 L117.0,98.9 L117.5,98.9 L118.0,99.0 L118.5,99.1 L119.0,99.3 L119.5,99.4 L120.0,99.6 L120.5,99.8 L121.0,100.0 L121.5,100.2 L122.0,100.3 L122.5,100.5 L123.0,100.7 L123.5,100.9 L124.0,101.1 L124.5,101.2 L125.0,101.4 L125.5,101.5 L126.0,101.6 L126.5,101.8 L127.0,101.9 L127.5,101.9 L128.0,102.0 L128.5,102.1 L129.0,102.1 L129.5,102.2 L130.0,102.2 L130.5,102.3 L131.0,102.3 L131.5,102.3 L132.0,102.3 L132.5,102.3 L133.0,102.4 L133.5,102.4 L134.0,102.4 L134.5,102.4 L135.0,102.4 L135.5,102.4 L136.0,102.4 L136.5,102.4 L137.0,102.4 L137.5,102.4"/>
<path d="M101.5,102.8 L102.0,102.7 L102.5,102.7 L103.0,102.7 L103.5,102.6 L104.0,102.6 L104.5,102.5 L105.0,102.4 L105.5,102.3 L106.0,102.2 L106.5,102.1 L107.0,102.0 L107.5,101.8 L108.0,101.7 L108.5,101.5 L109.0,101.4 L109.5,101.2 L110.0,101.0 L110.5,100.8 L111.0,100.7 L111.5,100.5 L112.0,100.3 L112.5,100.2 L113.0,100.0 L113.5,99.9 L114.0,99.8 L114.5,99.7 L115.0,99.7 L115.5,99.6 L116.0,99.6 L116.5,99.6 L117.0,99.7 L117.5,99.7 L118.0,99.8 L118.5,99.9 L119.0,100.0 L119.5,100.2 L120.0,100.3 L120.5,100.5 L121.0,100.7 L121.5,100.8 L122.0,101.0 L122.5,101.2 L123.0,101.4 L123.5,101.5 L124.0,101.7 L124.5,101.8 L125.0,102.0 L125.5,102.1 L126.0,102.2 L126.5,102.3 L127.0,102.4 L127.5,102.5 L128.0,102.6 L128.5,102.6 L129.0,102.7 L129.5,102.7 L130.0,102.7 L130.5,102.8 L131.0,102.8 L131.5,102.8 L132.0,102.8 L132.5,102.9 L133.0,102.9 L133.5,102.9 L134.0,102.9 L134.5,102.9 L135.0,102.9 L135.5,102.9 L136.0,102.9 L136.5,102.9 L137.0,102.9 L137.5,102.9"/>
<path d="M101.5,103.3 L102.0,103.3 L102.5,103.2 L103.0,103.2 L103.5,103.1 L104.0,103.1 L104.5,103.0 L105.0,102.9 L105.5,102.9 L106.0,102.8 L106.5,102.7 L107.0,102.6 L107.5,102.4 L108.0,102.3 L108.5,102.2 L109.0,102.0 L109.5,101.8 L110.0,101.7 L110.5,101.5 L111.0,101.4 L111.5,101.2 L112.0,101.1 L112.5,100.9 L113.0,100.8 L113.5,100.7 L114.0,100.6 L114.5,100.5 L115.0,100.4 L115.5,100.4 L116.0,100.4 L116.5,100.4 L117.0,100.4 L117.5,100.5 L118.0,100.6 L118.5,100.7 L119.0,100.8 L119.5,100.9 L120.0,101.1 L120.5,101.2 L121.0,101.4 L121.5,101.5 L122.0,101.7 L122.5,101.8 L123.0,102.0 L123.5,102.2 L124.0,102.3 L124.5,102.4 L125.0,102.6 L125.5,102.7 L126.0,102.8 L126.5,102.9 L127.0,102.9 L127.5,103.0 L128.0,103.1 L128.5,103.1 L129.0,103.2 L129.5,103.2 L130.0,103.3 L130.5,103.3 L131.0,103.3 L131.5,103.3 L132.0,103.3 L132.5,103.4 L133.0,103.4 L133.5,103.4 L134.0,103.4 L134.5,103.4 L135.0,103.4 L135.5,103.4 L136.0,103.4 L136.5,103.4 L137.0,103.4 L137.5,103.4"/>
<path d="M101.5,103.8 L102.0,103.8 L102.5,103.7 L103.0,103.7 L103.5,103.7 L104.0,103.6 L104.5,103.6 L105.0,103.5 L105.5,103.4 L106.0,103.3 L106.5,103.2 L107.0,103.1 L107.5,103.0 L108.0,102.9 L108.5,102.8 L109.0,102.6 L109.5,102.5 L110.0,102.4 L110.5,102.2 L111.0,102.1 L111.5,101.9 L112.0,101.8 L112.5,101.7 L113.0,101.6 L113.5,101.5 L114.0,101.4 L114.5,101.3 L115.0,101.2 L115.5,101.2 L116.0,101.2 L116.5,101.2 L117.0,101.2 L117.5,101.3 L118.0,101.4 L118.5,101.5 L119.0,101.6 L119.5,101.7 L120.0,101.8 L120.5,101.9 L121.0,102.1 L121.5,102.2 L122.0,102.4 L122.5,102.5 L123.0,102.6 L123.5,102.8 L124.0,102.9 L124.5,103.0 L125.0,103.1 L125.5,103.2 L126.0,103.3 L126.5,103.4 L127.0,103.5 L127.5,103.6 L128.0,103.6 L128.5,103.7 L129.0,103.7 L129.5,103.7 L130.0,103.8 L130.5,103.8 L131.0,103.8 L131.5,103.8 L132.0,103.9 L132.5,103.9 L133.0,103.9 L133.5,103.9 L134.0,103.9 L134.5,103.9 L135.0,103.9 L135.5,103.9 L136.0,103.9 L136.5,103.9 L137.0,103.9 L137.5,103.9"/>
<path d="M101.5,104.3 L102.0,104.3 L102.5,104.3 L103.0,104.2 L103.5,104.2 L104.0,104.1 L104.5,104.1 L105.0,104.0 L105.5,104.0 L106.0,103.9 L106.5,103.8 L107.0,103.7 L107.5,103.6 L108.0,103.5 L108.5,103.4 L109.0,103.3 L109.5,103.2 L110.0,103.0 L110.5,102.9 L111.0,102.8 L111.5,102.7 L112.0,102.5 L112.5,102.4 L113.0,102.3 L113.5,102.2 L114.0,102.1 L114.5,102.1 L115.0,102.0 L115.5,102.0 L116.0,102.0 L116.5,102.0 L117.0,102.0 L117.5,102.1 L118.0,102.1 L118.5,102.2 L119.0,102.3 L119.5,102.4 L120.0,102.5 L120.5,102.7 L121.0,102.8 L121.5,102.9 L122.0,103.0 L122.5,103.2 L123.0,103.3 L123.5,103.4 L124.0,103.5 L124.5,103.6 L125.0,103.7 L125.5,103.8 L126.0,103.9 L126.5,104.0 L127.0,104.0 L127.5,104.1 L128.0,104.1 L128.5,104.2 L129.0,104.2 L129.5,104.3 L130.0,104.3 L130.5,104.3 L131.0,104.3 L131.5,104.3 L132.0,104.4 L132.5,104.4 L133.0,104.4 L133.5,104.4 L134.0,104.4 L134.5,104.4 L135.0,104.4 L135.5,104.4 L136.0,104.4 L136.5,104.4 L137.0,104.4 L137.5,104.4"/>
</g>
</g>
<line x1="101.5" y1="83.5" x2="137.5" y2="83.5" stroke="#4a5cb0" stroke-width="0.7" stroke-dasharray="1.6,1.4"/>
<line x1="116.0" y1="51.1" x2="116.0" y2="60.8" stroke="#7f8db0" stroke-width="0.55"/>
<line x1="116.0" y1="69.1" x2="116.0" y2="79.8" stroke="#7f8db0" stroke-width="0.55"/>
<path d="M115.2,52.2 L116.0,50.800000000000004 L116.8,52.2Z" fill="#2e4a78"/>
<path d="M115.2,78.6 L116.0,80.0 L116.8,78.6Z" fill="#2e4a78"/>
<text x="112.57" y="66.60" font-size="4.6" fill="#555" font-weight="normal" textLength="7.34" lengthAdjust="spacingAndGlyphs" >1.55</text>
<text x="109.36" y="11.60" font-size="4.9" fill="#3c3c3c" stroke="#3c3c3c" stroke-width="0.06" font-weight="normal" textLength="14.31" lengthAdjust="spacingAndGlyphs" >Tensile</text>
<text x="112.59" y="17.30" font-size="4.9" fill="#3c3c3c" stroke="#3c3c3c" stroke-width="0.06" font-weight="normal" textLength="9.23" lengthAdjust="spacingAndGlyphs" >(1%)</text>
<text x="101.5" y="105.5" font-size="4.5" fill="#666" text-anchor="middle">X</text>
<text x="116.0" y="105.5" font-size="4.5" fill="#666" text-anchor="middle">A</text>
<text x="137.5" y="105.5" font-size="4.5" fill="#666" text-anchor="middle">Γ</text>
<line x1="11.6" y1="7.3" x2="13.3" y2="7.3" stroke="#a9a9a9" stroke-width="0.6"/>
<text x="10.4" y="8.95" font-size="4.5" fill="#909090" text-anchor="end">3</text>
<line x1="11.6" y1="30.3" x2="13.3" y2="30.3" stroke="#a9a9a9" stroke-width="0.6"/>
<text x="10.4" y="31.95" font-size="4.5" fill="#909090" text-anchor="end">2</text>
<line x1="11.6" y1="53.1" x2="13.3" y2="53.1" stroke="#a9a9a9" stroke-width="0.6"/>
<text x="10.4" y="54.75" font-size="4.5" fill="#909090" text-anchor="end">1</text>
<line x1="11.6" y1="76.0" x2="13.3" y2="76.0" stroke="#a9a9a9" stroke-width="0.6"/>
<text x="10.4" y="77.65" font-size="4.5" fill="#909090" text-anchor="end">0</text>
<line x1="11.6" y1="99.2" x2="13.3" y2="99.2" stroke="#a9a9a9" stroke-width="0.6"/>
<text x="10.4" y="100.85" font-size="4.5" fill="#909090" text-anchor="end">–1</text>
<text transform="translate(6.20,59.92) rotate(-90)" x="0" y="0" font-size="4.6" fill="#3c3c3c" stroke="#3c3c3c" stroke-width="0.12" textLength="13.28" lengthAdjust="spacingAndGlyphs"><tspan font-style="italic">E</tspan> (eV)</text>
<text x="-0.2" y="5.0" font-size="6.8" font-weight="bold" fill="#111">a</text>
<text x="166.9" y="5.4" font-size="6.8" font-weight="bold" fill="#111">b</text>
<g stroke="#6f7d92" stroke-width="1.0" fill="none">
<line x1="175.5" y1="27" x2="186.5" y2="27"/>
<line x1="188" y1="27" x2="199" y2="27"/>
<line x1="200.5" y1="27" x2="211" y2="27"/>
<line x1="195" y1="88.5" x2="206.5" y2="88.5"/>
<line x1="275.8" y1="72.5" x2="287" y2="72.5"/>
<line x1="288" y1="72.5" x2="299" y2="72.5"/>
<line x1="300" y1="72.5" x2="311" y2="72.5"/>
</g>
<path d="M181.5,32.8 L181.5,21.6 L182.5,23.400000000000002" stroke="#34466a" stroke-width="0.55" fill="none"/>
<path d="M193,32.8 L193,21.6 L194.0,23.400000000000002" stroke="#34466a" stroke-width="0.55" fill="none"/>
<path d="M199,84 L199,95 L198.0,93.2" stroke="#34466a" stroke-width="0.55" fill="none"/>
<path d="M202.5,93 L202.5,82.2 L203.5,84.0" stroke="#34466a" stroke-width="0.55" fill="none"/>
<path d="M282.2,78.5 L282.2,66 L283.2,67.8" stroke="#34466a" stroke-width="0.55" fill="none"/>
<path d="M280.9,66.5 L280.9,79.2 L279.9,77.4" stroke="#34466a" stroke-width="0.55" fill="none"/>
<path d="M293.7,78.5 L293.7,66 L294.7,67.8" stroke="#34466a" stroke-width="0.55" fill="none"/>
<path d="M292.4,66.5 L292.4,79.2 L291.4,77.4" stroke="#34466a" stroke-width="0.55" fill="none"/>
<path d="M305,78.8 L305,66 L306.0,67.8" stroke="#34466a" stroke-width="0.55" fill="none"/>
<text x="179.92" y="37.30" font-size="4.2" fill="#555" stroke="#555" stroke-width="0.05" font-weight="normal" textLength="5.00" lengthAdjust="spacingAndGlyphs" >Pb</text>
<text x="188.94" y="37.00" font-size="4.2" fill="#555" stroke="#555" stroke-width="0.05" font-weight="normal" textLength="9.13" lengthAdjust="spacingAndGlyphs" >(6p)</text>
<text x="194.88" y="100.90" font-size="4.2" fill="#555" stroke="#555" stroke-width="0.05" font-weight="normal" textLength="14.91" lengthAdjust="spacingAndGlyphs" >Pb (6s)</text>
<text x="279.11" y="85.50" font-size="4.2" fill="#555" stroke="#555" stroke-width="0.05" font-weight="normal" textLength="3.77" lengthAdjust="spacingAndGlyphs" >X</text>
<text x="289.14" y="85.60" font-size="4.2" fill="#555" stroke="#555" stroke-width="0.05" font-weight="normal" textLength="9.24" lengthAdjust="spacingAndGlyphs" >(np)</text>
<text x="255.01" y="16.80" font-size="4.2" fill="#555" stroke="#555" stroke-width="0.05" font-weight="normal" textLength="6.76" lengthAdjust="spacingAndGlyphs" >CB</text>
<text x="259.23" y="66.30" font-size="4.2" fill="#555" stroke="#555" stroke-width="0.05" font-weight="normal" textLength="6.02" lengthAdjust="spacingAndGlyphs" >VB</text>
<text x="233.6" y="44.8" font-size="4.6" fill="#555" font-style="italic">E<tspan font-size="3" dy="1.4">g</tspan></text>
<defs>
<linearGradient id="gcb" x1="0" y1="0" x2="0" y2="1">
 <stop offset="0" stop-color="#4a8cd0" stop-opacity="0"/><stop offset="0.45" stop-color="#4a8cd0" stop-opacity="0.75"/><stop offset="0.47" stop-color="#4a8cd0" stop-opacity="1"/><stop offset="1" stop-color="#4a8cd0" stop-opacity="1"/>
</linearGradient>
<linearGradient id="gred" x1="0" y1="0" x2="0" y2="1">
 <stop offset="0" stop-color="#e06868" stop-opacity="1"/><stop offset="0.4" stop-color="#e06868" stop-opacity="0.85"/><stop offset="1" stop-color="#e06868" stop-opacity="0"/>
</linearGradient>
<linearGradient id="gblue" x1="0" y1="0" x2="0" y2="1">
 <stop offset="0" stop-color="#4a8cd0" stop-opacity="1"/><stop offset="0.6" stop-color="#4a8cd0" stop-opacity="0.85"/><stop offset="1" stop-color="#4a8cd0" stop-opacity="0"/>
</linearGradient>
</defs>
<rect x="225.5" y="5" width="27.5" height="23.8" fill="url(#gcb)"/>
<line x1="225.5" y1="15.8" x2="253" y2="15.8" stroke="#3b7cc4" stroke-width="0.6"/>
<rect x="225.5" y="57.8" width="27.5" height="15.5" fill="url(#gred)"/>
<line x1="225.5" y1="64.3" x2="253" y2="64.3" stroke="#d05a5e" stroke-width="0.6"/>
<rect x="225.5" y="74" width="27.5" height="14.5" fill="url(#gblue)"/>
<line x1="225.5" y1="83.1" x2="253" y2="83.1" stroke="#3b7cc4" stroke-width="0.6"/>
<rect x="225.5" y="92.7" width="27.5" height="15.5" fill="url(#gred)"/>
<line x1="225.5" y1="101.1" x2="253" y2="101.1" stroke="#d05a5e" stroke-width="0.6"/>
<line x1="239.8" y1="31" x2="239.8" y2="55" stroke="#c4cad6" stroke-width="1.1"/><line x1="239.8" y1="31" x2="239.8" y2="55" stroke="#8090a8" stroke-width="0.3"/>
<path d="M238.8,31.5 L239.8,29.8 L240.8,31.5Z" fill="#3a4a6a"/>
<path d="M238.8,54.5 L239.8,56.2 L240.8,54.5Z" fill="#3a4a6a"/>
<g fill="none" stroke-width="0.7" stroke-dasharray="1.5,1.3">
<path d="M211,27 L225.5,16.5" stroke="#4a9ad8"/>
<path d="M211,27 L225.5,83" stroke="#4a9ad8"/>
<path d="M253,16.5 L275,72.5" stroke="#4a9ad8"/>
<path d="M253,83 L275,72.5" stroke="#4a9ad8"/>
<path d="M206.5,88.5 L225.5,64.3" stroke="#e07878"/>
<path d="M206.5,88.5 L225.5,101" stroke="#e07878"/>
<path d="M253,64.3 L275,72.5" stroke="#e07878"/>
<path d="M253,100 L275,72.5" stroke="#e07878"/>
</g>
<text x="1.2" y="135.3" font-size="6.8" font-weight="bold" fill="#111">c</text>
<line x1="22.4" y1="134.2" x2="22.4" y2="226.2" stroke="#a9a9a9" stroke-width="0.7"/>
<line x1="22.4" y1="226.2" x2="144.6" y2="226.2" stroke="#a9a9a9" stroke-width="0.7"/>
<line x1="19.8" y1="141.50" x2="22.4" y2="141.50" stroke="#a9a9a9" stroke-width="0.75"/>
<text x="10.95" y="143.30" font-size="4.8" fill="#8a8a8a" font-weight="normal" textLength="7.66" lengthAdjust="spacingAndGlyphs" >2.25</text>
<line x1="19.8" y1="160.72" x2="22.4" y2="160.72" stroke="#a9a9a9" stroke-width="0.75"/>
<text x="10.95" y="162.53" font-size="4.8" fill="#8a8a8a" font-weight="normal" textLength="7.64" lengthAdjust="spacingAndGlyphs" >2.00</text>
<line x1="19.8" y1="179.95" x2="22.4" y2="179.95" stroke="#a9a9a9" stroke-width="0.75"/>
<text x="10.85" y="181.75" font-size="4.8" fill="#8a8a8a" font-weight="normal" textLength="7.76" lengthAdjust="spacingAndGlyphs" >1.75</text>
<line x1="19.8" y1="199.18" x2="22.4" y2="199.18" stroke="#a9a9a9" stroke-width="0.75"/>
<text x="10.85" y="200.98" font-size="4.8" fill="#8a8a8a" font-weight="normal" textLength="7.74" lengthAdjust="spacingAndGlyphs" >1.50</text>
<line x1="19.8" y1="218.40" x2="22.4" y2="218.40" stroke="#a9a9a9" stroke-width="0.75"/>
<text x="10.85" y="220.20" font-size="4.8" fill="#8a8a8a" font-weight="normal" textLength="7.76" lengthAdjust="spacingAndGlyphs" >1.25</text>
<line x1="26.50" y1="226.2" x2="26.50" y2="228.6" stroke="#a9a9a9" stroke-width="0.6"/>
<text x="25.27" y="234.60" font-size="4.6" fill="#8a8a8a" font-weight="normal" textLength="2.43" lengthAdjust="spacingAndGlyphs" >0</text>
<line x1="64.60" y1="226.2" x2="64.60" y2="228.6" stroke="#a9a9a9" stroke-width="0.6"/>
<text x="63.31" y="234.60" font-size="4.6" fill="#8a8a8a" font-weight="normal" textLength="2.58" lengthAdjust="spacingAndGlyphs" >5</text>
<line x1="102.70" y1="226.2" x2="102.70" y2="228.6" stroke="#a9a9a9" stroke-width="0.6"/>
<text x="100.80" y="234.60" font-size="4.6" fill="#8a8a8a" font-weight="normal" textLength="3.67" lengthAdjust="spacingAndGlyphs" >10</text>
<line x1="140.80" y1="226.2" x2="140.80" y2="228.6" stroke="#a9a9a9" stroke-width="0.6"/>
<text x="138.90" y="234.60" font-size="4.6" fill="#8a8a8a" font-weight="normal" textLength="3.69" lengthAdjust="spacingAndGlyphs" >15</text>
<text x="62.85" y="241.50" font-size="4.6" fill="#505050" stroke="#505050" stroke-width="0.02" font-weight="normal" textLength="42.91" lengthAdjust="spacingAndGlyphs" >Rotation angle <tspan font-style="italic">θ</tspan> (°)</text>
<text transform="translate(5.90,196.05) rotate(-90)" x="0" y="0" font-size="4.6" fill="#505050" stroke="#505050" stroke-width="0.02" textLength="33.62" lengthAdjust="spacingAndGlyphs">Direct gap (eV)</text>
<text x="31.8" y="141.0" font-size="4.7" fill="#222" font-weight="bold" textLength="35.5" lengthAdjust="spacingAndGlyphs">CsPbI<tspan font-size="3" dy="1.2">3</tspan><tspan dy="-1.2"> rotation</tspan></text>
<rect x="32.5" y="145.5" width="27.5" height="31.4" fill="#fff" stroke="#dcdcdc" stroke-width="0.6"/>
<line x1="33.8" y1="150.2" x2="41.6" y2="150.2" stroke="#2c5590" stroke-width="0.6"/>
<circle cx="37.7" cy="150.2" r="1.45" fill="#fff" stroke="#2c5590" stroke-width="0.55"/>
<text x="44.9" y="151.5" font-size="4.9" fill="#444" stroke="#444" stroke-width="0.08" textLength="12.3" lengthAdjust="spacingAndGlyphs">a<tspan font-size="3.0" dy="-1.6">+</tspan><tspan dy="1.6">a</tspan><tspan font-size="3.0" dy="-1.6">+</tspan><tspan dy="1.6">a</tspan><tspan font-size="3.0" dy="-1.6">+</tspan></text>
<line x1="33.8" y1="156.1" x2="41.6" y2="156.1" stroke="#5aa2dc" stroke-width="0.6"/>
<circle cx="37.7" cy="156.1" r="1.45" fill="#fff" stroke="#5aa2dc" stroke-width="0.55"/>
<text x="44.9" y="157.4" font-size="4.9" fill="#444" stroke="#444" stroke-width="0.08" textLength="12.3" lengthAdjust="spacingAndGlyphs">a<tspan font-size="3.0" dy="-1.6">–</tspan><tspan dy="1.6">a</tspan><tspan font-size="3.0" dy="-1.6">–</tspan><tspan dy="1.6">a</tspan><tspan font-size="3.0" dy="-1.6">–</tspan></text>
<line x1="33.8" y1="162.0" x2="41.6" y2="162.0" stroke="#f2a4a8" stroke-width="0.6"/>
<circle cx="37.7" cy="162.0" r="1.45" fill="#fff" stroke="#f2a4a8" stroke-width="0.55"/>
<text x="44.9" y="163.3" font-size="4.9" fill="#444" stroke="#444" stroke-width="0.08" textLength="12.3" lengthAdjust="spacingAndGlyphs">a<tspan font-size="3.0" dy="-1.6">0</tspan><tspan dy="1.6">b</tspan><tspan font-size="3.0" dy="-1.6">–</tspan><tspan dy="1.6">b</tspan><tspan font-size="3.0" dy="-1.6">–</tspan></text>
<line x1="33.8" y1="167.9" x2="41.6" y2="167.9" stroke="#d8aa50" stroke-width="0.6"/>
<circle cx="37.7" cy="167.9" r="1.45" fill="#fff" stroke="#d8aa50" stroke-width="0.55"/>
<text x="44.9" y="169.20000000000002" font-size="4.9" fill="#444" stroke="#444" stroke-width="0.08" textLength="12.3" lengthAdjust="spacingAndGlyphs">a<tspan font-size="3.0" dy="-1.6">0</tspan><tspan dy="1.6">b</tspan><tspan font-size="3.0" dy="-1.6">+</tspan><tspan dy="1.6">b</tspan><tspan font-size="3.0" dy="-1.6">–</tspan></text>
<line x1="33.8" y1="173.8" x2="41.6" y2="173.8" stroke="#d9565c" stroke-width="0.6"/>
<circle cx="37.7" cy="173.8" r="1.45" fill="#fff" stroke="#d9565c" stroke-width="0.55"/>
<text x="44.9" y="175.10000000000002" font-size="4.9" fill="#444" stroke="#444" stroke-width="0.08" textLength="12.3" lengthAdjust="spacingAndGlyphs">a<tspan font-size="3.0" dy="-1.6">+</tspan><tspan dy="1.6">a</tspan><tspan font-size="3.0" dy="-1.6">–</tspan><tspan dy="1.6">b</tspan><tspan font-size="3.0" dy="-1.6">–</tspan></text>
<path d="M26.5,223.5 L34.1,222.5 L41.7,220.5 L49.4,217.5 L57.0,215.0 L64.6,210.6 L72.2,206.9 L79.8,199.5 L87.5,192.8 L95.1,185.2 L102.7,178.1 L110.3,170.7 L117.9,162.5 L125.6,155.0 L133.2,147.0 L140.8,144.5" fill="none" stroke="#2c5590" stroke-width="0.6"/>
<circle cx="26.50" cy="223.50" r="1.45" fill="#fff" stroke="#2c5590" stroke-width="0.55"/>
<circle cx="34.12" cy="222.50" r="1.45" fill="#fff" stroke="#2c5590" stroke-width="0.55"/>
<circle cx="41.74" cy="220.50" r="1.45" fill="#fff" stroke="#2c5590" stroke-width="0.55"/>
<circle cx="49.36" cy="217.50" r="1.45" fill="#fff" stroke="#2c5590" stroke-width="0.55"/>
<circle cx="56.98" cy="215.00" r="1.45" fill="#fff" stroke="#2c5590" stroke-width="0.55"/>
<circle cx="64.60" cy="210.60" r="1.45" fill="#fff" stroke="#2c5590" stroke-width="0.55"/>
<circle cx="72.22" cy="206.90" r="1.45" fill="#fff" stroke="#2c5590" stroke-width="0.55"/>
<circle cx="79.84" cy="199.50" r="1.45" fill="#fff" stroke="#2c5590" stroke-width="0.55"/>
<circle cx="87.46" cy="192.75" r="1.45" fill="#fff" stroke="#2c5590" stroke-width="0.55"/>
<circle cx="95.08" cy="185.25" r="1.45" fill="#fff" stroke="#2c5590" stroke-width="0.55"/>
<circle cx="102.70" cy="178.10" r="1.45" fill="#fff" stroke="#2c5590" stroke-width="0.55"/>
<circle cx="110.32" cy="170.70" r="1.45" fill="#fff" stroke="#2c5590" stroke-width="0.55"/>
<circle cx="117.94" cy="162.50" r="1.45" fill="#fff" stroke="#2c5590" stroke-width="0.55"/>
<circle cx="125.56" cy="155.00" r="1.45" fill="#fff" stroke="#2c5590" stroke-width="0.55"/>
<circle cx="133.18" cy="147.00" r="1.45" fill="#fff" stroke="#2c5590" stroke-width="0.55"/>
<circle cx="140.80" cy="144.50" r="1.45" fill="#fff" stroke="#2c5590" stroke-width="0.55"/>
<path d="M26.5,223.5 L34.1,222.8 L41.7,221.0 L49.4,218.0 L57.0,215.8 L64.6,212.0 L72.2,208.0 L79.8,201.0 L87.5,194.4 L95.1,187.5 L102.7,181.2 L110.3,173.8 L117.9,166.2 L125.6,159.1 L133.2,152.0 L140.8,145.2" fill="none" stroke="#5aa2dc" stroke-width="0.6"/>
<circle cx="26.50" cy="223.50" r="1.45" fill="#fff" stroke="#5aa2dc" stroke-width="0.55"/>
<circle cx="34.12" cy="222.80" r="1.45" fill="#fff" stroke="#5aa2dc" stroke-width="0.55"/>
<circle cx="41.74" cy="221.00" r="1.45" fill="#fff" stroke="#5aa2dc" stroke-width="0.55"/>
<circle cx="49.36" cy="218.00" r="1.45" fill="#fff" stroke="#5aa2dc" stroke-width="0.55"/>
<circle cx="56.98" cy="215.80" r="1.45" fill="#fff" stroke="#5aa2dc" stroke-width="0.55"/>
<circle cx="64.60" cy="212.00" r="1.45" fill="#fff" stroke="#5aa2dc" stroke-width="0.55"/>
<circle cx="72.22" cy="208.00" r="1.45" fill="#fff" stroke="#5aa2dc" stroke-width="0.55"/>
<circle cx="79.84" cy="201.00" r="1.45" fill="#fff" stroke="#5aa2dc" stroke-width="0.55"/>
<circle cx="87.46" cy="194.40" r="1.45" fill="#fff" stroke="#5aa2dc" stroke-width="0.55"/>
<circle cx="95.08" cy="187.50" r="1.45" fill="#fff" stroke="#5aa2dc" stroke-width="0.55"/>
<circle cx="102.70" cy="181.25" r="1.45" fill="#fff" stroke="#5aa2dc" stroke-width="0.55"/>
<circle cx="110.32" cy="173.75" r="1.45" fill="#fff" stroke="#5aa2dc" stroke-width="0.55"/>
<circle cx="117.94" cy="166.25" r="1.45" fill="#fff" stroke="#5aa2dc" stroke-width="0.55"/>
<circle cx="125.56" cy="159.10" r="1.45" fill="#fff" stroke="#5aa2dc" stroke-width="0.55"/>
<circle cx="133.18" cy="152.00" r="1.45" fill="#fff" stroke="#5aa2dc" stroke-width="0.55"/>
<circle cx="140.80" cy="145.25" r="1.45" fill="#fff" stroke="#5aa2dc" stroke-width="0.55"/>
<path d="M26.5,223.5 L34.1,223.0 L41.7,222.0 L49.4,220.0 L57.0,218.5 L64.6,215.0 L72.2,211.2 L79.8,207.5 L87.5,202.8 L95.1,197.1 L102.7,192.5 L110.3,186.0 L117.9,180.0 L125.6,174.0 L133.2,167.8 L140.8,162.2" fill="none" stroke="#f2a4a8" stroke-width="0.6"/>
<circle cx="26.50" cy="223.50" r="1.45" fill="#fff" stroke="#f2a4a8" stroke-width="0.55"/>
<circle cx="34.12" cy="223.00" r="1.45" fill="#fff" stroke="#f2a4a8" stroke-width="0.55"/>
<circle cx="41.74" cy="222.00" r="1.45" fill="#fff" stroke="#f2a4a8" stroke-width="0.55"/>
<circle cx="49.36" cy="220.00" r="1.45" fill="#fff" stroke="#f2a4a8" stroke-width="0.55"/>
<circle cx="56.98" cy="218.50" r="1.45" fill="#fff" stroke="#f2a4a8" stroke-width="0.55"/>
<circle cx="64.60" cy="215.00" r="1.45" fill="#fff" stroke="#f2a4a8" stroke-width="0.55"/>
<circle cx="72.22" cy="211.25" r="1.45" fill="#fff" stroke="#f2a4a8" stroke-width="0.55"/>
<circle cx="79.84" cy="207.50" r="1.45" fill="#fff" stroke="#f2a4a8" stroke-width="0.55"/>
<circle cx="87.46" cy="202.75" r="1.45" fill="#fff" stroke="#f2a4a8" stroke-width="0.55"/>
<circle cx="95.08" cy="197.10" r="1.45" fill="#fff" stroke="#f2a4a8" stroke-width="0.55"/>
<circle cx="102.70" cy="192.50" r="1.45" fill="#fff" stroke="#f2a4a8" stroke-width="0.55"/>
<circle cx="110.32" cy="186.00" r="1.45" fill="#fff" stroke="#f2a4a8" stroke-width="0.55"/>
<circle cx="117.94" cy="180.00" r="1.45" fill="#fff" stroke="#f2a4a8" stroke-width="0.55"/>
<circle cx="125.56" cy="174.00" r="1.45" fill="#fff" stroke="#f2a4a8" stroke-width="0.55"/>
<circle cx="133.18" cy="167.75" r="1.45" fill="#fff" stroke="#f2a4a8" stroke-width="0.55"/>
<circle cx="140.80" cy="162.25" r="1.45" fill="#fff" stroke="#f2a4a8" stroke-width="0.55"/>
<path d="M26.5,223.5 L34.1,223.2 L41.7,222.5 L49.4,221.0 L57.0,219.5 L64.6,216.9 L72.2,213.8 L79.8,209.8 L87.5,206.0 L95.1,201.2 L102.7,196.7 L110.3,191.5 L117.9,186.9 L125.6,181.5 L133.2,176.0 L140.8,170.6" fill="none" stroke="#d8aa50" stroke-width="0.6"/>
<circle cx="26.50" cy="223.50" r="1.45" fill="#fff" stroke="#d8aa50" stroke-width="0.55"/>
<circle cx="34.12" cy="223.20" r="1.45" fill="#fff" stroke="#d8aa50" stroke-width="0.55"/>
<circle cx="41.74" cy="222.50" r="1.45" fill="#fff" stroke="#d8aa50" stroke-width="0.55"/>
<circle cx="49.36" cy="221.00" r="1.45" fill="#fff" stroke="#d8aa50" stroke-width="0.55"/>
<circle cx="56.98" cy="219.50" r="1.45" fill="#fff" stroke="#d8aa50" stroke-width="0.55"/>
<circle cx="64.60" cy="216.90" r="1.45" fill="#fff" stroke="#d8aa50" stroke-width="0.55"/>
<circle cx="72.22" cy="213.75" r="1.45" fill="#fff" stroke="#d8aa50" stroke-width="0.55"/>
<circle cx="79.84" cy="209.75" r="1.45" fill="#fff" stroke="#d8aa50" stroke-width="0.55"/>
<circle cx="87.46" cy="206.00" r="1.45" fill="#fff" stroke="#d8aa50" stroke-width="0.55"/>
<circle cx="95.08" cy="201.25" r="1.45" fill="#fff" stroke="#d8aa50" stroke-width="0.55"/>
<circle cx="102.70" cy="196.70" r="1.45" fill="#fff" stroke="#d8aa50" stroke-width="0.55"/>
<circle cx="110.32" cy="191.50" r="1.45" fill="#fff" stroke="#d8aa50" stroke-width="0.55"/>
<circle cx="117.94" cy="186.90" r="1.45" fill="#fff" stroke="#d8aa50" stroke-width="0.55"/>
<circle cx="125.56" cy="181.50" r="1.45" fill="#fff" stroke="#d8aa50" stroke-width="0.55"/>
<circle cx="133.18" cy="176.00" r="1.45" fill="#fff" stroke="#d8aa50" stroke-width="0.55"/>
<circle cx="140.80" cy="170.60" r="1.45" fill="#fff" stroke="#d8aa50" stroke-width="0.55"/>
<path d="M26.5,223.5 L34.1,223.3 L41.7,223.1 L49.4,221.9 L57.0,221.2 L64.6,219.8 L72.2,217.5 L79.8,215.6 L87.5,213.8 L95.1,211.2 L102.7,208.8 L110.3,206.0 L117.9,202.5 L125.6,199.8 L133.2,196.5 L140.8,193.5" fill="none" stroke="#d9565c" stroke-width="0.6"/>
<circle cx="26.50" cy="223.50" r="1.45" fill="#fff" stroke="#d9565c" stroke-width="0.55"/>
<circle cx="34.12" cy="223.30" r="1.45" fill="#fff" stroke="#d9565c" stroke-width="0.55"/>
<circle cx="41.74" cy="223.10" r="1.45" fill="#fff" stroke="#d9565c" stroke-width="0.55"/>
<circle cx="49.36" cy="221.90" r="1.45" fill="#fff" stroke="#d9565c" stroke-width="0.55"/>
<circle cx="56.98" cy="221.25" r="1.45" fill="#fff" stroke="#d9565c" stroke-width="0.55"/>
<circle cx="64.60" cy="219.75" r="1.45" fill="#fff" stroke="#d9565c" stroke-width="0.55"/>
<circle cx="72.22" cy="217.50" r="1.45" fill="#fff" stroke="#d9565c" stroke-width="0.55"/>
<circle cx="79.84" cy="215.60" r="1.45" fill="#fff" stroke="#d9565c" stroke-width="0.55"/>
<circle cx="87.46" cy="213.75" r="1.45" fill="#fff" stroke="#d9565c" stroke-width="0.55"/>
<circle cx="95.08" cy="211.25" r="1.45" fill="#fff" stroke="#d9565c" stroke-width="0.55"/>
<circle cx="102.70" cy="208.75" r="1.45" fill="#fff" stroke="#d9565c" stroke-width="0.55"/>
<circle cx="110.32" cy="206.00" r="1.45" fill="#fff" stroke="#d9565c" stroke-width="0.55"/>
<circle cx="117.94" cy="202.50" r="1.45" fill="#fff" stroke="#d9565c" stroke-width="0.55"/>
<circle cx="125.56" cy="199.75" r="1.45" fill="#fff" stroke="#d9565c" stroke-width="0.55"/>
<circle cx="133.18" cy="196.50" r="1.45" fill="#fff" stroke="#d9565c" stroke-width="0.55"/>
<circle cx="140.80" cy="193.50" r="1.45" fill="#fff" stroke="#d9565c" stroke-width="0.55"/>
<text x="168.8" y="134.8" font-size="6.8" font-weight="bold" fill="#111">d</text>
<line x1="185.7" y1="134.2" x2="185.7" y2="226.2" stroke="#a9a9a9" stroke-width="0.7"/>
<line x1="185.7" y1="226.2" x2="310.8" y2="226.2" stroke="#a9a9a9" stroke-width="0.7"/>
<line x1="183.1" y1="149.40" x2="185.7" y2="149.40" stroke="#a9a9a9" stroke-width="0.75"/>
<text x="177.29" y="151.35" font-size="5.2" fill="#8a8a8a" font-weight="normal" textLength="4.87" lengthAdjust="spacingAndGlyphs" >1.4</text>
<line x1="183.1" y1="179.70" x2="185.7" y2="179.70" stroke="#a9a9a9" stroke-width="0.75"/>
<text x="177.29" y="181.65" font-size="5.2" fill="#8a8a8a" font-weight="normal" textLength="4.91" lengthAdjust="spacingAndGlyphs" >1.3</text>
<line x1="183.1" y1="210.00" x2="185.7" y2="210.00" stroke="#a9a9a9" stroke-width="0.75"/>
<text x="177.28" y="211.95" font-size="5.2" fill="#8a8a8a" font-weight="normal" textLength="4.95" lengthAdjust="spacingAndGlyphs" >1.2</text>
<line x1="184.4" y1="164.55" x2="185.7" y2="164.55" stroke="#a9a9a9" stroke-width="0.6"/>
<line x1="184.4" y1="194.85" x2="185.7" y2="194.85" stroke="#a9a9a9" stroke-width="0.6"/>
<line x1="185.80" y1="226.2" x2="185.80" y2="228.6" stroke="#a9a9a9" stroke-width="0.6"/>
<text x="184.58" y="234.70" font-size="4.6" fill="#8a8a8a" font-weight="normal" textLength="2.43" lengthAdjust="spacingAndGlyphs" >0</text>
<line x1="224.80" y1="226.2" x2="224.80" y2="228.6" stroke="#a9a9a9" stroke-width="0.6"/>
<text x="220.65" y="234.70" font-size="4.6" fill="#8a8a8a" font-weight="normal" textLength="9.50" lengthAdjust="spacingAndGlyphs" >0.05</text>
<line x1="263.80" y1="226.2" x2="263.80" y2="228.6" stroke="#a9a9a9" stroke-width="0.6"/>
<text x="259.26" y="234.70" font-size="4.6" fill="#8a8a8a" font-weight="normal" textLength="9.26" lengthAdjust="spacingAndGlyphs" >0.10</text>
<line x1="302.80" y1="226.2" x2="302.80" y2="228.6" stroke="#a9a9a9" stroke-width="0.6"/>
<text x="298.66" y="234.70" font-size="4.6" fill="#8a8a8a" font-weight="normal" textLength="9.29" lengthAdjust="spacingAndGlyphs" >0.15</text>
<text x="221.75" y="241.60" font-size="4.6" fill="#505050" stroke="#505050" stroke-width="0.02" font-weight="normal" textLength="47.22" lengthAdjust="spacingAndGlyphs" >Displacement, <tspan font-style="italic">Δd</tspan> (Å)</text>
<text transform="translate(173.90,195.75) rotate(-90)" x="0" y="0" font-size="4.6" fill="#505050" stroke="#505050" stroke-width="0.02" textLength="33.32" lengthAdjust="spacingAndGlyphs">Direct gap (eV)</text>
<text x="193.9" y="141.0" font-size="4.7" fill="#222" font-weight="bold" textLength="46.8" lengthAdjust="spacingAndGlyphs">CsPbI<tspan font-size="3" dy="1.2">3</tspan><tspan dy="-1.2">: Pb-off centre</tspan></text>
<rect x="195.7" y="146.3" width="25.2" height="20.1" fill="#fff" stroke="#dcdcdc" stroke-width="0.6"/>
<line x1="197.9" y1="150.3" x2="205.9" y2="150.3" stroke="#d9565c" stroke-width="0.6"/>
<circle cx="201.8" cy="150.3" r="1.45" fill="#fff" stroke="#d9565c" stroke-width="0.55"/>
<text x="208.10" y="152.05" font-size="5.0" fill="#444" stroke="#444" stroke-width="0.08" font-weight="normal" textLength="9.00" lengthAdjust="spacingAndGlyphs" >(111)</text>
<line x1="197.9" y1="156.2" x2="205.9" y2="156.2" stroke="#d8aa50" stroke-width="0.6"/>
<circle cx="201.8" cy="156.2" r="1.45" fill="#fff" stroke="#d8aa50" stroke-width="0.55"/>
<text x="208.10" y="157.95" font-size="5.0" fill="#444" stroke="#444" stroke-width="0.08" font-weight="normal" textLength="9.53" lengthAdjust="spacingAndGlyphs" >(110)</text>
<line x1="197.9" y1="162.3" x2="205.9" y2="162.3" stroke="#5aa2dc" stroke-width="0.6"/>
<circle cx="201.8" cy="162.3" r="1.45" fill="#fff" stroke="#5aa2dc" stroke-width="0.55"/>
<text x="208.06" y="164.05" font-size="5.0" fill="#444" stroke="#444" stroke-width="0.08" font-weight="normal" textLength="11.20" lengthAdjust="spacingAndGlyphs" >(100)</text>
<path d="M185.8,216.5 L193.6,216.6 L201.4,217.0 L209.2,217.1 L217.0,216.5 L224.8,216.3 L232.6,216.2 L240.4,215.6 L248.2,215.2 L256.0,214.8 L263.8,214.4 L271.6,213.5 L279.4,213.3 L287.2,212.6 L295.0,211.6 L302.8,211.0 L310.6,210.2" fill="none" stroke="#5aa2dc" stroke-width="0.6"/>
<circle cx="185.80" cy="216.50" r="1.45" fill="#fff" stroke="#5aa2dc" stroke-width="0.55"/>
<circle cx="193.60" cy="216.60" r="1.45" fill="#fff" stroke="#5aa2dc" stroke-width="0.55"/>
<circle cx="201.40" cy="217.00" r="1.45" fill="#fff" stroke="#5aa2dc" stroke-width="0.55"/>
<circle cx="209.20" cy="217.10" r="1.45" fill="#fff" stroke="#5aa2dc" stroke-width="0.55"/>
<circle cx="217.00" cy="216.50" r="1.45" fill="#fff" stroke="#5aa2dc" stroke-width="0.55"/>
<circle cx="224.80" cy="216.30" r="1.45" fill="#fff" stroke="#5aa2dc" stroke-width="0.55"/>
<circle cx="232.60" cy="216.25" r="1.45" fill="#fff" stroke="#5aa2dc" stroke-width="0.55"/>
<circle cx="240.40" cy="215.60" r="1.45" fill="#fff" stroke="#5aa2dc" stroke-width="0.55"/>
<circle cx="248.20" cy="215.25" r="1.45" fill="#fff" stroke="#5aa2dc" stroke-width="0.55"/>
<circle cx="256.00" cy="214.75" r="1.45" fill="#fff" stroke="#5aa2dc" stroke-width="0.55"/>
<circle cx="263.80" cy="214.40" r="1.45" fill="#fff" stroke="#5aa2dc" stroke-width="0.55"/>
<circle cx="271.60" cy="213.50" r="1.45" fill="#fff" stroke="#5aa2dc" stroke-width="0.55"/>
<circle cx="279.40" cy="213.30" r="1.45" fill="#fff" stroke="#5aa2dc" stroke-width="0.55"/>
<circle cx="287.20" cy="212.60" r="1.45" fill="#fff" stroke="#5aa2dc" stroke-width="0.55"/>
<circle cx="295.00" cy="211.60" r="1.45" fill="#fff" stroke="#5aa2dc" stroke-width="0.55"/>
<circle cx="302.80" cy="211.00" r="1.45" fill="#fff" stroke="#5aa2dc" stroke-width="0.55"/>
<circle cx="310.60" cy="210.20" r="1.45" fill="#fff" stroke="#5aa2dc" stroke-width="0.55"/>
<path d="M185.8,216.5 L193.6,216.5 L201.4,216.6 L209.2,216.3 L217.0,214.8 L224.8,213.4 L232.6,212.5 L240.4,210.6 L248.2,209.4 L256.0,207.5 L263.8,205.6 L271.6,203.1 L279.4,201.1 L287.2,198.5 L295.0,196.2 L302.8,193.6 L310.6,191.2" fill="none" stroke="#d8aa50" stroke-width="0.6"/>
<circle cx="185.80" cy="216.50" r="1.45" fill="#fff" stroke="#d8aa50" stroke-width="0.55"/>
<circle cx="193.60" cy="216.50" r="1.45" fill="#fff" stroke="#d8aa50" stroke-width="0.55"/>
<circle cx="201.40" cy="216.60" r="1.45" fill="#fff" stroke="#d8aa50" stroke-width="0.55"/>
<circle cx="209.20" cy="216.30" r="1.45" fill="#fff" stroke="#d8aa50" stroke-width="0.55"/>
<circle cx="217.00" cy="214.75" r="1.45" fill="#fff" stroke="#d8aa50" stroke-width="0.55"/>
<circle cx="224.80" cy="213.40" r="1.45" fill="#fff" stroke="#d8aa50" stroke-width="0.55"/>
<circle cx="232.60" cy="212.50" r="1.45" fill="#fff" stroke="#d8aa50" stroke-width="0.55"/>
<circle cx="240.40" cy="210.60" r="1.45" fill="#fff" stroke="#d8aa50" stroke-width="0.55"/>
<circle cx="248.20" cy="209.40" r="1.45" fill="#fff" stroke="#d8aa50" stroke-width="0.55"/>
<circle cx="256.00" cy="207.50" r="1.45" fill="#fff" stroke="#d8aa50" stroke-width="0.55"/>
<circle cx="263.80" cy="205.60" r="1.45" fill="#fff" stroke="#d8aa50" stroke-width="0.55"/>
<circle cx="271.60" cy="203.10" r="1.45" fill="#fff" stroke="#d8aa50" stroke-width="0.55"/>
<circle cx="279.40" cy="201.10" r="1.45" fill="#fff" stroke="#d8aa50" stroke-width="0.55"/>
<circle cx="287.20" cy="198.50" r="1.45" fill="#fff" stroke="#d8aa50" stroke-width="0.55"/>
<circle cx="295.00" cy="196.20" r="1.45" fill="#fff" stroke="#d8aa50" stroke-width="0.55"/>
<circle cx="302.80" cy="193.55" r="1.45" fill="#fff" stroke="#d8aa50" stroke-width="0.55"/>
<circle cx="310.60" cy="191.25" r="1.45" fill="#fff" stroke="#d8aa50" stroke-width="0.55"/>
<path d="M185.8,216.5 L193.6,216.5 L201.4,214.6 L209.2,213.0 L217.0,210.1 L224.8,206.2 L232.6,202.8 L240.4,198.5 L248.2,193.5 L256.0,187.8 L263.8,182.2 L271.6,176.5 L279.4,170.7 L287.2,164.9 L295.0,159.3 L302.8,153.1 L310.6,147.3" fill="none" stroke="#d9565c" stroke-width="0.6"/>
<circle cx="185.80" cy="216.50" r="1.45" fill="#fff" stroke="#d9565c" stroke-width="0.55"/>
<circle cx="193.60" cy="216.50" r="1.45" fill="#fff" stroke="#d9565c" stroke-width="0.55"/>
<circle cx="201.40" cy="214.60" r="1.45" fill="#fff" stroke="#d9565c" stroke-width="0.55"/>
<circle cx="209.20" cy="213.00" r="1.45" fill="#fff" stroke="#d9565c" stroke-width="0.55"/>
<circle cx="217.00" cy="210.10" r="1.45" fill="#fff" stroke="#d9565c" stroke-width="0.55"/>
<circle cx="224.80" cy="206.25" r="1.45" fill="#fff" stroke="#d9565c" stroke-width="0.55"/>
<circle cx="232.60" cy="202.75" r="1.45" fill="#fff" stroke="#d9565c" stroke-width="0.55"/>
<circle cx="240.40" cy="198.50" r="1.45" fill="#fff" stroke="#d9565c" stroke-width="0.55"/>
<circle cx="248.20" cy="193.50" r="1.45" fill="#fff" stroke="#d9565c" stroke-width="0.55"/>
<circle cx="256.00" cy="187.75" r="1.45" fill="#fff" stroke="#d9565c" stroke-width="0.55"/>
<circle cx="263.80" cy="182.25" r="1.45" fill="#fff" stroke="#d9565c" stroke-width="0.55"/>
<circle cx="271.60" cy="176.50" r="1.45" fill="#fff" stroke="#d9565c" stroke-width="0.55"/>
<circle cx="279.40" cy="170.70" r="1.45" fill="#fff" stroke="#d9565c" stroke-width="0.55"/>
<circle cx="287.20" cy="164.90" r="1.45" fill="#fff" stroke="#d9565c" stroke-width="0.55"/>
<circle cx="295.00" cy="159.30" r="1.45" fill="#fff" stroke="#d9565c" stroke-width="0.55"/>
<circle cx="302.80" cy="153.10" r="1.45" fill="#fff" stroke="#d9565c" stroke-width="0.55"/>
<circle cx="310.60" cy="147.30" r="1.45" fill="#fff" stroke="#d9565c" stroke-width="0.55"/>
</svg></body></html>
